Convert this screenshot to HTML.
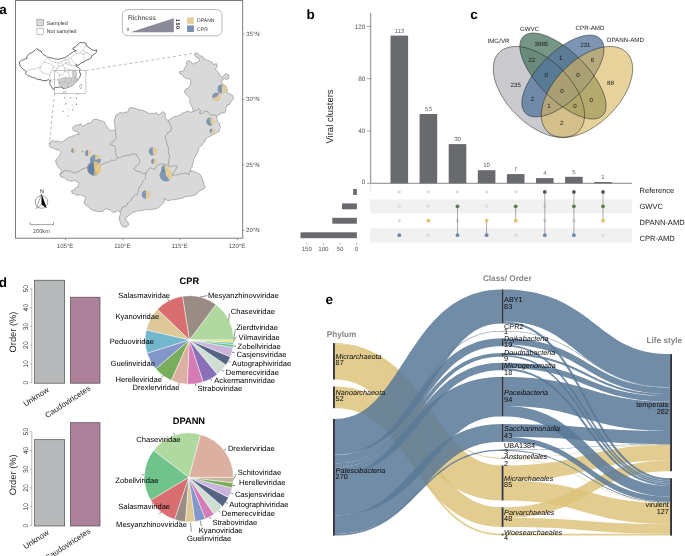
<!DOCTYPE html>
<html><head><meta charset="utf-8"><title>Figure</title>
<style>html,body{margin:0;padding:0;background:#fff;}svg{display:block;will-change:transform;}text{font-family:"Liberation Sans",sans-serif;text-rendering:geometricPrecision;}</style>
</head><body>
<svg width="685" height="556" viewBox="0 0 685 556">
<rect width="685" height="556" fill="#fff"/>
<g id="panelA">
<rect x="15.5" y="0.5" width="227.2" height="237.7" fill="#fff" stroke="#6e6e6e" stroke-width="0.9"/>
<path d="M85.9 70.5 L196 53" stroke="#777" stroke-width="0.5" stroke-dasharray="3 2.5" fill="none"/>
<path d="M54.5 93.6 L49.3 144" stroke="#777" stroke-width="0.5" stroke-dasharray="3 2.5" fill="none"/>
<path d="M19.3 62.8 L19.8 61.6 L20.6 61.0 L21.7 60.2 L22.7 60.0 L23.7 59.7 L24.4 59.3 L25.4 58.8 L26.8 58.5 L26.8 56.9 L27.4 56.0 L28.3 55.0 L29.3 53.5 L30.0 52.9 L31.4 53.0 L32.4 52.3 L33.7 51.3 L34.9 50.4 L36.1 49.2 L36.7 48.5 L37.9 49.3 L38.6 50.4 L39.6 50.4 L41.1 51.0 L41.5 52.5 L42.3 53.5 L43.3 54.5 L44.8 55.4 L45.8 55.9 L46.6 56.3 L47.5 57.2 L48.4 57.2 L49.9 57.6 L51.0 57.9 L52.1 58.2 L53.4 58.4 L54.7 58.8 L56.1 59.1 L57.0 59.1 L58.4 59.1 L59.7 59.1 L61.1 58.5 L62.1 58.5 L63.7 57.8 L64.6 57.8 L65.9 57.2 L66.9 56.3 L68.3 55.4 L69.3 54.6 L70.8 53.5 L72.3 52.6 L73.3 51.6 L75.1 51.2 L76.4 51.0 L75.6 50.5 L74.6 49.8 L72.7 49.2 L73.4 48.2 L73.9 47.3 L75.4 47.0 L76.4 46.1 L77.3 44.9 L78.3 43.6 L79.2 43.1 L80.8 42.3 L82.4 42.9 L83.9 42.7 L85.3 43.0 L86.3 43.6 L86.6 44.9 L87.0 46.1 L87.9 47.0 L89.4 47.9 L90.5 48.6 L91.9 49.8 L93.2 50.3 L95.0 50.4 L96.9 49.8 L96.3 50.9 L96.3 52.3 L95.3 53.5 L94.4 54.1 L92.9 55.0 L91.9 56.0 L91.3 57.2 L90.7 57.9 L89.7 59.0 L88.2 59.7 L86.8 60.0 L85.7 60.3 L84.7 61.5 L83.9 62.2 L82.9 62.3 L81.4 62.8 L80.2 63.6 L79.5 64.7 L77.7 65.3 L75.8 64.7 L76.4 66.5 L77.5 67.1 L78.9 67.8 L79.6 68.5 L80.1 69.6 L79.5 71.5 L79.8 72.7 L80.8 74.0 L80.4 75.3 L80.1 76.5 L79.5 77.8 L78.3 78.9 L77.4 80.3 L76.4 81.4 L75.7 81.9 L75.0 83.3 L73.9 83.9 L73.0 85.0 L71.5 85.8 L70.1 86.3 L69.0 87.0 L67.5 87.4 L66.5 87.6 L64.9 87.9 L64.0 88.9 L62.9 88.0 L62.1 87.6 L60.8 87.0 L59.7 87.0 L58.1 87.1 L57.2 87.6 L55.7 87.5 L54.7 87.6 L54.1 89.5 L52.8 89.1 L52.2 88.2 L51.7 86.8 L51.0 85.8 L50.2 84.4 L49.7 83.3 L50.0 81.8 L50.4 80.8 L49.7 80.5 L48.5 79.6 L47.2 80.2 L46.0 80.8 L44.2 80.5 L42.9 80.8 L41.8 80.2 L41.1 79.7 L39.8 79.6 L37.9 79.6 L36.7 78.9 L35.7 78.3 L34.7 77.8 L33.6 77.7 L32.6 77.6 L31.8 77.0 L30.5 76.5 L29.3 76.0 L28.2 75.8 L27.4 75.2 L26.5 74.5 L25.5 73.4 L26.2 71.5 L24.8 70.4 L23.7 69.6 L23.0 69.0 L21.8 67.8 L21.1 67.1 L20.0 65.9 L19.9 64.5 Z" fill="#fff" stroke="#1a1a1a" stroke-width="0.65" stroke-linejoin="round"/>
<path d="M26.2 71.5 L27.3 71.0 L28.6 70.4 L29.7 70.0 L31.1 69.6 L32.3 69.4 L33.8 69.0 L35.0 68.9 L36.1 68.4 L37.7 67.9 L38.9 67.5 L40.4 67.2 L40.9 65.8 L41.7 64.7 L42.7 63.6 L43.5 62.2 L44.5 61.2 L45.2 60.3 L45.8 59.3 L46.9 58.3 L47.5 57.2" fill="none" stroke="#808080" stroke-width="0.35"/>
<path d="M40.4 67.2 L40.2 68.7 L39.8 70.3 L40.7 71.2 L41.8 72.0 L42.9 72.7 L44.3 73.1 L45.4 73.7 L46.6 74.0 L48.3 74.5 L49.7 75.2 L49.7 76.5 L50.2 78.1 L50.1 79.5 L50.4 80.8" fill="none" stroke="#808080" stroke-width="0.35"/>
<path d="M43.5 62.2 L45.0 62.5 L46.0 62.6 L47.3 62.8 L48.4 63.0 L49.9 63.7 L51.0 64.1 L52.0 65.1 L53.0 65.9 L54.1 66.5 L53.6 67.5 L52.7 68.5 L52.2 69.6 L51.6 70.8 L51.1 71.8 L50.6 73.2 L50.2 74.1 L49.7 75.2" fill="none" stroke="#808080" stroke-width="0.35"/>
<path d="M47.5 57.2 L48.4 58.3 L49.2 59.3 L50.1 60.0 L51.0 61.0 L52.2 61.2 L53.4 61.7 L54.7 62.2 L55.7 62.5 L57.1 62.6 L58.4 62.8 L60.1 62.2 L61.5 61.6 L62.5 61.0 L63.6 60.4 L64.6 59.7 L66.0 59.4 L67.7 59.1 L69.2 58.4 L70.8 57.9 L72.2 56.6 L73.3 55.4 L74.6 54.5 L75.8 53.5 L77.2 53.3 L78.3 53.1 L79.5 52.9 L80.6 52.1 L81.6 51.2 L82.6 50.4 L83.2 49.5 L83.9 48.5 L84.5 47.3 L85.3 46.0 L85.7 45.0 L86.3 43.6" fill="none" stroke="#808080" stroke-width="0.35"/>
<path d="M79.5 52.9 L80.9 53.2 L81.8 53.7 L83.2 54.1 L84.5 53.6 L86.0 53.4 L87.6 52.9 L88.8 53.8 L89.6 54.5 L90.9 55.1 L91.9 56.0" fill="none" stroke="#808080" stroke-width="0.35"/>
<path d="M82.6 50.4 L84.0 51.2 L85.0 51.8 L86.3 52.3 L87.6 52.9" fill="none" stroke="#808080" stroke-width="0.35"/>
<path d="M83.2 54.1 L83.8 55.5 L83.9 56.6 L84.5 57.9 L84.3 59.2 L83.9 60.7 L83.9 62.2" fill="none" stroke="#808080" stroke-width="0.35"/>
<path d="M58.4 62.8 L58.7 63.9 L58.9 65.3 L59.0 66.5 L57.9 67.7 L57.2 69.0 L56.0 70.0 L54.7 70.9" fill="none" stroke="#808080" stroke-width="0.35"/>
<path d="M61.5 61.6 L61.8 63.0 L62.5 64.2 L62.8 65.3 L63.5 66.4 L64.6 67.8 L65.7 68.5 L67.1 69.0 L68.6 69.2 L70.2 69.6 L71.7 70.1 L73.3 70.3" fill="none" stroke="#808080" stroke-width="0.35"/>
<path d="M64.6 59.7 L65.2 60.9 L65.3 62.4 L65.9 63.4 L67.1 64.1 L68.3 64.7 L69.7 65.1 L71.5 65.9 L73.0 65.5 L74.2 65.3 L75.8 64.7" fill="none" stroke="#808080" stroke-width="0.35"/>
<path d="M67.7 59.1 L68.4 60.2 L68.8 61.3 L69.6 62.2 L70.0 63.6 L70.8 64.6 L71.5 65.9" fill="none" stroke="#808080" stroke-width="0.35"/>
<path d="M70.8 57.9 L71.5 59.1 L72.0 59.8 L72.7 61.0 L73.6 61.8 L74.6 62.8 L75.4 63.5 L76.4 64.3 L77.7 65.3" fill="none" stroke="#808080" stroke-width="0.35"/>
<path d="M62.8 65.3 L61.5 65.6 L60.4 66.0 L59.0 66.5" fill="none" stroke="#808080" stroke-width="0.35"/>
<path d="M65.9 63.4 L64.8 63.9 L63.7 64.5 L62.8 65.3" fill="none" stroke="#808080" stroke-width="0.35"/>
<path d="M69.6 62.2 L68.3 62.4 L67.2 63.0 L65.9 63.4" fill="none" stroke="#808080" stroke-width="0.35"/>
<path d="M54.7 70.9 L55.6 71.5 L56.9 72.0 L57.8 72.7 L58.9 74.0 L59.7 75.2 L59.2 76.6 L58.8 77.7 L58.4 78.9 L58.8 80.4 L59.0 81.4" fill="none" stroke="#808080" stroke-width="0.35"/>
<path d="M54.7 70.9 L53.4 70.4 L52.2 69.6" fill="none" stroke="#808080" stroke-width="0.35"/>
<path d="M50.4 80.8 L52.0 80.2 L53.5 79.6 L55.0 79.8 L56.6 80.2 L58.4 78.9" fill="none" stroke="#808080" stroke-width="0.35"/>
<path d="M54.1 66.5 L54.9 67.2 L56.0 68.3 L57.2 69.0" fill="none" stroke="#808080" stroke-width="0.35"/>
<path d="M59.7 75.2 L61.1 74.8 L62.8 74.6 L63.2 73.7 L64.2 72.6 L64.6 71.5 L64.5 70.2 L64.5 69.0 L64.6 67.8" fill="none" stroke="#808080" stroke-width="0.35"/>
<path d="M64.6 71.5 L65.7 71.7 L67.0 72.1 L68.3 72.1 L69.5 70.9 L70.2 69.6" fill="none" stroke="#808080" stroke-width="0.35"/>
<path d="M68.3 72.1 L68.9 73.9 L69.6 75.2 L68.9 76.5 L68.3 78.0" fill="none" stroke="#808080" stroke-width="0.35"/>
<path d="M73.3 70.3 L73.1 70.5" fill="none" stroke="#808080" stroke-width="0.35"/>
<path d="M58.4 80.8 L59.7 78.9 L62.8 78.0 L65.2 77.5 L68.3 78.0 L71.5 77.5 L73.3 77.2 L72.4 74.6 L72.3 72.1 L73.1 70.5 L75.8 70.5 L76.8 73.4 L76.0 76.7 L77.0 78.9 L76.4 81.4 L74.6 83.7 L72.1 85.8 L69.6 87.0 L67.1 87.6 L65.9 89.5 L64.6 88.2 L62.1 87.0 L60.3 85.8 L58.7 83.3 Z" fill="#cfcfcf" stroke="#8c8c8c" stroke-width="0.35"/>
<path d="M65.2 77.5 L65.9 81.4 L67.7 83.3 L67.1 87.6" fill="none" stroke="#8c8c8c" stroke-width="0.3"/>
<path d="M71.5 77.5 L71.1 80.8 L69.6 83.3 L67.7 83.3" fill="none" stroke="#8c8c8c" stroke-width="0.3"/>
<path d="M71.1 80.8 L73.9 81.4 L76.0 76.7" fill="none" stroke="#8c8c8c" stroke-width="0.3"/>
<path d="M73.3 77.2 L76.0 76.7" fill="none" stroke="#8c8c8c" stroke-width="0.3"/>
<path d="M58.7 83.3 L62.1 82.7 L65.9 81.4" fill="none" stroke="#8c8c8c" stroke-width="0.3"/>
<path d="M79.8 84.9 L81.4 84.2 L81.7 86.4 L80.8 88.9 L79.5 87.0 Z" fill="#fff" stroke="#555" stroke-width="0.35"/>
<path d="M63.6 91.6 L65.6 91.3 L66.1 92.8 L64.6 93.8 L63.4 92.8 Z" fill="#fff" stroke="#555" stroke-width="0.35"/>
<rect x="54.5" y="70.5" width="31.4" height="23.1" fill="none" stroke="#9a9a9a" stroke-width="0.55"/>
<path d="M64.2 97.3 L65.2 98.5" stroke="#333" stroke-width="0.65" fill="none"/>
<path d="M71.0 97.3 L70.0 98.5" stroke="#333" stroke-width="0.65" fill="none"/>
<path d="M76.5 97.5 L76.5 98.9" stroke="#333" stroke-width="0.65" fill="none"/>
<path d="M78.0 93.7 L77.0 94.7" stroke="#333" stroke-width="0.65" fill="none"/>
<path d="M65.7 103.2 L65.7 104.6" stroke="#333" stroke-width="0.65" fill="none"/>
<path d="M76.4 103.7 L76.4 105.1" stroke="#333" stroke-width="0.65" fill="none"/>
<path d="M73.3 109.5 L72.1 110.3" stroke="#333" stroke-width="0.65" fill="none"/>
<path d="M62.7 110.9 L63.5 112.1" stroke="#333" stroke-width="0.65" fill="none"/>
<path d="M67.7 115.6 L68.7 116.6" stroke="#333" stroke-width="0.65" fill="none"/>
<path d="M70.5 105.5 L72.5 104.2 L73.5 106.0 L71.5 107.0" stroke="#bbb" stroke-width="0.35" fill="none"/>
<path d="M66.5 109.5 L68.5 108.5 L70.0 109.3" stroke="#bbb" stroke-width="0.35" fill="none"/>
<path d="M68.0 96.8 L68.8 97.8" stroke="#bbb" stroke-width="0.35" fill="none"/>
<path d="M69.5 110.0 L68.5 112.5" stroke="#bbb" stroke-width="0.35" fill="none"/>
<path d="M49.2 144.8 L49.9 142.2 L52.5 140.5 L55.1 141.5 L57.7 140.9 L58.6 141.4 L61.0 142.2 L62.6 141.5 L64.3 140.9 L65.5 139.6 L67.6 138.3 L68.5 137.2 L70.9 136.9 L72.2 136.1 L74.8 135.6 L76.4 134.3 L79.4 134.3 L78.1 132.3 L75.8 131.3 L74.2 131.0 L72.2 128.4 L73.5 126.4 L75.3 125.8 L76.8 125.1 L79.1 124.7 L80.7 123.8 L82.7 126.4 L85.3 125.1 L88.0 123.1 L90.3 123.1 L91.9 121.8 L93.2 119.5 L96.5 119.2 L98.0 119.6 L99.8 120.5 L103.1 121.2 L104.8 122.3 L105.0 124.5 L107.0 126.4 L108.3 129.1 L110.3 130.3 L111.6 131.0 L112.6 130.9 L114.9 129.7 L115.3 127.5 L114.5 125.0 L114.8 123.7 L113.9 121.5 L114.5 119.7 L115.1 117.9 L115.8 115.1 L118.2 114.3 L119.7 112.5 L122.1 113.1 L124.3 112.5 L127.6 111.8 L128.5 110.5 L128.9 108.5 L130.5 107.5 L132.9 107.9 L134.6 108.3 L137.5 109.2 L139.2 110.0 L142.0 109.9 L144.1 111.0 L146.0 111.8 L148.2 113.1 L149.9 113.8 L151.9 113.1 L153.9 113.8 L156.5 112.5 L158.5 115.1 L161.1 113.1 L163.1 111.6 L165.0 113.1 L165.5 115.5 L165.0 117.1 L166.4 119.7 L168.3 120.4 L170.4 119.1 L172.5 117.7 L175.0 116.4 L177.1 116.4 L179.4 115.1 L181.0 114.5 L182.4 113.1 L185.0 112.5 L187.0 111.4 L188.3 111.2 L190.6 112.2 L192.2 111.8 L193.5 111.6 L192.9 109.6 L192.2 107.5 L191.5 105.7 L190.5 104.3 L189.6 102.4 L190.2 99.1 L188.3 96.5 L186.3 94.5 L184.3 91.9 L185.6 89.3 L188.3 88.0 L190.2 85.3 L190.9 82.0 L190.2 78.8 L186.9 78.8 L184.3 77.5 L182.3 74.8 L179.7 73.5 L179.7 71.5 L182.1 71.4 L183.7 70.9 L184.5 68.6 L185.0 67.6 L186.9 65.0 L186.3 61.7 L188.3 60.4 L190.9 61.7 L192.9 64.3 L194.8 63.0 L197.5 62.3 L199.4 61.0 L198.8 58.4 L196.1 57.1 L194.2 55.1 L195.5 53.1 L198.1 53.8 L200.1 55.8 L202.7 56.4 L204.0 59.1 L205.1 59.3 L207.3 60.4 L209.3 60.7 L210.6 61.7 L212.0 62.3 L213.2 64.3 L216.5 63.7 L217.2 66.9 L215.8 68.2 L215.8 70.2 L218.5 72.2 L219.4 74.1 L219.8 75.5 L222.4 77.5 L224.4 74.8 L226.4 73.5 L228.3 74.8 L229.0 78.1 L227.0 79.4 L224.4 78.8 L222.4 79.4 L221.8 82.0 L223.1 84.7 L225.7 86.0 L227.0 88.6 L227.3 90.3 L227.0 92.6 L229.6 93.9 L231.3 94.8 L232.9 95.8 L233.6 98.5 L231.6 101.1 L230.6 102.2 L229.6 104.4 L227.0 105.0 L227.0 106.2 L225.7 108.3 L225.8 111.4 L224.4 113.1 L221.7 113.0 L220.4 113.1 L219.6 114.9 L217.7 115.0 L216.5 116.4 L217.2 119.7 L218.0 122.4 L219.8 123.7 L219.7 125.7 L220.4 127.6 L219.3 129.6 L219.1 131.5 L217.8 132.0 L215.2 133.5 L214.0 134.2 L211.9 134.8 L210.8 136.1 L208.6 136.8 L206.6 138.4 L205.3 138.8 L204.7 142.0 L203.3 143.0 L202.0 145.3 L199.7 146.6 L198.8 148.0 L198.4 149.6 L198.1 151.9 L196.7 153.2 L196.1 155.5 L195.5 156.6 L193.7 159.2 L193.5 161.2 L193.4 162.6 L192.2 165.1 L192.2 167.1 L190.9 168.4 L190.5 171.0 L192.9 171.0 L194.2 171.7 L195.6 172.2 L197.5 173.0 L199.8 174.1 L200.7 175.0 L201.2 176.5 L202.0 178.3 L202.4 179.2 L203.4 181.5 L204.0 184.8 L205.3 186.8 L204.0 188.8 L201.4 190.1 L198.8 191.4 L196.8 194.0 L194.6 195.2 L193.5 195.3 L191.2 196.3 L189.6 196.0 L186.3 196.6 L184.3 197.0 L183.0 198.0 L179.7 198.6 L176.4 199.3 L173.1 199.9 L171.2 199.8 L169.2 200.6 L165.9 199.9 L163.9 198.0 L164.6 200.6 L163.3 203.2 L160.7 205.2 L159.9 206.5 L157.8 208.2 L156.0 208.5 L154.6 209.3 L152.0 209.1 L150.5 210.0 L149.2 209.6 L146.8 209.8 L145.4 209.3 L143.6 210.2 L141.5 210.4 L140.2 211.1 L137.7 210.6 L136.3 211.8 L134.6 211.9 L131.7 213.1 L131.3 213.5 L129.2 215.0 L127.7 216.6 L125.7 217.6 L125.1 219.6 L126.7 220.7 L128.2 222.7 L128.5 225.3 L126.7 226.8 L124.1 227.3 L121.8 225.8 L120.5 222.7 L119.3 219.6 L119.5 216.6 L120.5 214.0 L120.0 212.0 L118.0 210.4 L115.4 212.0 L112.9 212.5 L111.6 211.0 L110.3 209.9 L107.8 209.4 L105.7 208.4 L103.7 210.9 L101.1 211.7 L98.1 211.5 L95.0 210.9 L93.9 210.4 L91.6 209.8 L89.9 208.5 L89.0 206.8 L86.6 205.8 L85.6 204.2 L84.0 203.2 L84.7 200.6 L85.4 198.8 L86.0 197.3 L83.4 196.0 L80.9 194.8 L79.4 194.7 L77.0 195.3 L75.5 194.7 L73.8 193.6 L72.2 193.4 L71.5 190.7 L73.8 190.5 L74.8 188.8 L76.4 187.2 L78.1 186.8 L78.8 183.5 L76.8 180.9 L74.6 180.5 L73.1 180.7 L71.5 181.5 L69.2 180.5 L67.6 180.2 L66.1 179.5 L64.3 177.6 L61.0 176.9 L59.7 174.3 L61.7 171.8 L61.1 170.0 L59.7 168.5 L58.3 166.9 L57.1 165.2 L56.2 163.3 L55.8 161.9 L55.8 159.9 L57.1 158.6 L59.1 156.4 L59.7 155.3 L60.4 153.9 L61.0 152.0 L59.1 150.1 L55.8 149.4 L53.1 148.1 L50.5 147.5 Z" fill="#d9d9d9" stroke="#707070" stroke-width="0.5" stroke-linejoin="round"/>
<path d="M114.9 129.7 L115.7 131.3 L115.6 133.7 L115.9 135.3 L116.9 137.6 L115.1 139.2 L113.6 140.9 L112.9 142.5 L111.5 142.4 L109.6 144.2 L111.0 145.1 L113.6 145.5 L115.6 148.1 L115.8 150.0 L114.9 152.0 L115.7 153.0 L116.2 155.3 L117.5 158.0" fill="none" stroke="#707070" stroke-width="0.5" stroke-linejoin="round"/>
<path d="M117.5 158.0 L115.7 159.9 L114.2 160.6 L111.0 159.9 L109.4 161.7 L107.0 162.6 L105.7 162.9 L103.1 163.9 L100.4 165.2 L97.9 165.0 L96.5 166.1 L95.2 166.5 L92.6 166.5 L90.6 167.3 L88.1 167.5 L86.0 167.8 L83.4 168.9 L82.0 169.1 L79.7 171.0 L78.1 171.8 L76.3 172.1 L74.2 173.1 L71.7 171.7 L70.2 171.1 L68.4 171.1 L66.3 170.4 L64.1 170.8 L63.0 172.4 L61.4 173.5 L59.7 174.4" fill="none" stroke="#707070" stroke-width="0.5" stroke-linejoin="round"/>
<path d="M117.5 158.0 L120.5 157.9 L122.5 155.9 L125.8 155.9 L127.6 155.2 L129.7 155.3 L131.8 153.9 L133.7 153.9 L136.9 154.6 L137.3 156.2 L138.3 157.9 L139.6 159.7 L139.6 161.2 L139.4 162.8 L138.3 164.5 L135.6 166.4 L133.7 169.1 L136.3 171.0 L139.6 171.7 L140.8 172.3 L142.9 173.7 L146.1 173.0" fill="none" stroke="#707070" stroke-width="0.5" stroke-linejoin="round"/>
<path d="M146.1 173.0 L145.5 176.3 L145.5 178.2 L144.2 179.6 L142.9 180.9 L142.2 183.5 L140.9 185.4 L139.6 186.8 L138.8 188.4 L138.3 190.7 L137.8 193.3 L136.9 194.7 L134.6 195.3 L133.0 197.3 L131.8 198.8 L131.0 200.6 L129.6 201.5 L127.7 203.2 L127.2 205.2 L125.8 206.5 L123.8 206.7 L121.8 207.8 L121.6 209.6 L120.0 212.0" fill="none" stroke="#707070" stroke-width="0.5" stroke-linejoin="round"/>
<path d="M146.1 173.0 L147.6 171.0 L148.1 169.7 L150.7 167.7 L152.3 168.8 L154.7 169.1 L155.4 168.0 L156.6 165.8 L158.3 164.7 L159.9 164.5 L162.6 163.8 L164.1 164.0 L166.5 164.5 L169.1 166.4" fill="none" stroke="#707070" stroke-width="0.5" stroke-linejoin="round"/>
<path d="M168.3 120.4 L169.2 122.6 L169.6 123.7 L170.1 125.5 L171.6 127.6 L170.6 130.2 L170.3 131.5 L168.2 132.2 L167.0 134.2 L165.4 136.0 L165.0 138.1 L166.3 140.6 L166.4 142.0 L167.3 144.7 L167.7 146.0 L168.6 148.1 L168.3 150.6 L168.5 153.5 L169.6 155.2 L169.7 156.5 L169.0 159.1 L168.9 160.9 L168.3 163.1 L169.0 165.7" fill="none" stroke="#707070" stroke-width="0.5" stroke-linejoin="round"/>
<path d="M169.1 166.4 L170.4 167.1 L172.2 166.2 L174.4 165.8 L177.7 166.4 L176.2 167.7 L175.7 170.4 L174.1 171.5 L173.1 173.0 L172.4 175.6 L175.4 174.8 L177.0 175.0 L180.0 173.9 L181.6 173.7 L183.4 173.8 L185.6 173.0 L187.7 173.9 L188.8 175.0 L189.2 172.6 L190.8 170.4" fill="none" stroke="#707070" stroke-width="0.5" stroke-linejoin="round"/>
<path d="M193.5 111.6 L195.5 110.5 L196.9 110.1 L198.8 108.5 L200.7 110.5 L199.4 113.1 L202.0 113.8 L203.3 112.3 L205.3 111.2 L207.5 111.5 L208.6 113.1 L210.5 114.6 L212.6 115.1 L214.9 115.1 L216.5 116.4" fill="none" stroke="#707070" stroke-width="0.5" stroke-linejoin="round"/>
<rect x="36.9" y="19.4" width="6.8" height="6.6" fill="#d9d9d9" stroke="#777" stroke-width="0.45"/>
<rect x="36.9" y="28.2" width="6.8" height="6.4" fill="#fff" stroke="#777" stroke-width="0.45"/>
<text x="46.8" y="24.6" font-size="5.3" fill="#333" font-family="Liberation Sans, sans-serif">Sampled</text>
<text x="46.8" y="33.3" font-size="5.3" fill="#333" font-family="Liberation Sans, sans-serif">Not sampled</text>
<rect x="122.4" y="9.5" width="99.6" height="26.3" rx="5.6" fill="#fff" stroke="#808080" stroke-width="0.55"/>
<text x="128" y="19.5" font-size="6.75" fill="#333" font-family="Liberation Sans, sans-serif">Richness</text>
<path d="M130.4 32.3 L173.8 32.3 L173.8 18.2 Z" fill="#8a8a9a"/>
<text x="126.8" y="30.8" font-size="4.5" fill="#333" font-family="Liberation Sans, sans-serif">0</text>
<text transform="translate(176.1 18.7) rotate(90)" font-size="5.4" font-weight="bold" letter-spacing="0.7" fill="#222" font-family="Liberation Sans, sans-serif">150</text>
<rect x="187.1" y="17.4" width="6.8" height="6.5" fill="#e6cf9b"/>
<rect x="187.1" y="25.4" width="6.8" height="6.6" fill="#7a92ae"/>
<text x="197.1" y="22.4" font-size="5.1" fill="#333" font-family="Liberation Sans, sans-serif">DPANN</text>
<text x="197.1" y="30.9" font-size="5.1" fill="#333" font-family="Liberation Sans, sans-serif">CPR</text>
<text x="42" y="192.5" font-size="5.3" text-anchor="middle" fill="#222" font-family="Liberation Sans, sans-serif">N</text>
<circle cx="41.5" cy="202" r="6.3" fill="none" stroke="#222" stroke-width="0.4"/>
<path d="M41.5 193.8 L46.8 208.2 L41.5 204.6 Z" fill="#000"/>
<path d="M41.5 193.8 L36.4 208.5 L41.5 204.6 Z" fill="#fff" stroke="#222" stroke-width="0.4"/>
<path d="M30.2 222 L30.2 224.6 L53.6 224.6 L53.6 222" fill="none" stroke="#666" stroke-width="0.6"/>
<text x="41.4" y="232.5" font-size="5.6" text-anchor="middle" fill="#555" font-family="Liberation Sans, sans-serif">200km</text>
<path d="M65.5 238.2 L65.5 240" stroke="#555" stroke-width="0.5"/>
<text x="65.1" y="248" font-size="6.1" text-anchor="middle" fill="#4d4d4d" font-family="Liberation Sans, sans-serif">105°E</text>
<path d="M122.8 238.2 L122.8 240" stroke="#555" stroke-width="0.5"/>
<text x="122.4" y="248" font-size="6.1" text-anchor="middle" fill="#4d4d4d" font-family="Liberation Sans, sans-serif">110°E</text>
<path d="M180.1 238.2 L180.1 240" stroke="#555" stroke-width="0.5"/>
<text x="179.7" y="248" font-size="6.1" text-anchor="middle" fill="#4d4d4d" font-family="Liberation Sans, sans-serif">115°E</text>
<path d="M237.4 238.2 L237.4 240" stroke="#555" stroke-width="0.5"/>
<text x="237.0" y="248" font-size="6.1" text-anchor="middle" fill="#4d4d4d" font-family="Liberation Sans, sans-serif">120°E</text>
<path d="M242.7 34.0 L244.5 34.0" stroke="#555" stroke-width="0.5"/>
<text x="246" y="35.7" font-size="6.1" fill="#4d4d4d" font-family="Liberation Sans, sans-serif">35°N</text>
<path d="M242.7 99.5 L244.5 99.5" stroke="#555" stroke-width="0.5"/>
<text x="246" y="101.2" font-size="6.1" fill="#4d4d4d" font-family="Liberation Sans, sans-serif">30°N</text>
<path d="M242.7 165.0 L244.5 165.0" stroke="#555" stroke-width="0.5"/>
<text x="246" y="166.7" font-size="6.1" fill="#4d4d4d" font-family="Liberation Sans, sans-serif">25°N</text>
<path d="M242.7 230.4 L244.5 230.4" stroke="#555" stroke-width="0.5"/>
<text x="246" y="232.1" font-size="6.1" fill="#4d4d4d" font-family="Liberation Sans, sans-serif">20°N</text>
<path d="M73.50 150.60 L73.28 148.11 A2.50 2.50 0 0 0 73.41 153.10 Z" fill="#56789f" fill-opacity="0.68" />
<path d="M73.50 150.60 L73.41 153.10 A2.50 2.50 0 1 0 73.28 148.11 Z" fill="#e6c57f" fill-opacity="0.68" />
<path d="M83.00 151.40 L83.00 150.40 A1.00 1.00 0 0 0 83.00 152.40 Z" fill="#56789f" fill-opacity="0.68" />
<path d="M83.00 151.40 L83.00 152.40 A1.00 1.00 0 0 0 83.00 150.40 Z" fill="#e6c57f" fill-opacity="0.68" />
<path d="M88.00 153.10 L88.00 150.10 A3.00 3.00 0 1 0 88.10 156.10 Z" fill="#56789f" fill-opacity="0.68" />
<path d="M88.00 153.10 L88.10 156.10 A3.00 3.00 0 0 0 88.00 150.10 Z" fill="#e6c57f" fill-opacity="0.68" />
<path d="M95.40 159.80 L95.40 154.40 A5.40 5.40 0 1 0 100.62 158.40 Z" fill="#56789f" fill-opacity="0.68" />
<path d="M95.40 159.80 L100.62 158.40 A5.40 5.40 0 0 0 95.40 154.40 Z" fill="#e6c57f" fill-opacity="0.68" />
<path d="M94.10 168.40 L93.47 161.23 A7.20 7.20 0 1 0 97.70 174.64 Z" fill="#56789f" fill-opacity="0.68" />
<path d="M94.10 168.40 L97.70 174.64 A7.20 7.20 0 0 0 93.47 161.23 Z" fill="#e6c57f" fill-opacity="0.68" />
<path d="M94.60 169.20 L93.49 162.90 A6.40 6.40 0 0 0 93.71 175.54 Z" fill="#56789f" fill-opacity="0.68" />
<path d="M94.60 169.20 L93.71 175.54 A6.40 6.40 0 1 0 93.49 162.90 Z" fill="#e6c57f" fill-opacity="0.68" />
<path d="M152.90 151.30 L152.75 147.10 A4.20 4.20 0 1 0 153.63 155.44 Z" fill="#56789f" fill-opacity="0.68" />
<path d="M152.90 151.30 L153.63 155.44 A4.20 4.20 0 0 0 152.75 147.10 Z" fill="#e6c57f" fill-opacity="0.68" />
<path d="M154.00 161.60 L153.74 158.61 A3.00 3.00 0 0 0 152.97 164.42 Z" fill="#56789f" fill-opacity="0.68" />
<path d="M154.00 161.60 L152.97 164.42 A3.00 3.00 0 1 0 153.74 158.61 Z" fill="#e6c57f" fill-opacity="0.68" />
<path d="M164.80 168.60 L164.80 164.90 A3.70 3.70 0 0 0 164.29 172.26 Z" fill="#56789f" fill-opacity="0.68" />
<path d="M164.80 168.60 L164.29 172.26 A3.70 3.70 0 1 0 164.80 164.90 Z" fill="#e6c57f" fill-opacity="0.68" />
<path d="M166.00 175.00 L164.89 168.70 A6.40 6.40 0 1 0 169.67 180.24 Z" fill="#56789f" fill-opacity="0.68" />
<path d="M166.00 175.00 L169.67 180.24 A6.40 6.40 0 0 0 164.89 168.70 Z" fill="#e6c57f" fill-opacity="0.68" />
<path d="M146.10 194.60 L145.72 190.22 A4.40 4.40 0 0 0 145.72 198.98 Z" fill="#56789f" fill-opacity="0.68" />
<path d="M146.10 194.60 L145.72 198.98 A4.40 4.40 0 1 0 145.72 190.22 Z" fill="#e6c57f" fill-opacity="0.68" />
<path d="M210.50 121.50 L210.50 117.20 A4.30 4.30 0 1 0 211.97 125.54 Z" fill="#56789f" fill-opacity="0.68" />
<path d="M210.50 121.50 L211.97 125.54 A4.30 4.30 0 0 0 210.50 117.20 Z" fill="#e6c57f" fill-opacity="0.68" />
<path d="M212.30 131.10 L211.81 128.34 A2.80 2.80 0 0 0 210.58 133.31 Z" fill="#56789f" fill-opacity="0.68" />
<path d="M212.30 131.10 L210.58 133.31 A2.80 2.80 0 1 0 211.81 128.34 Z" fill="#e6c57f" fill-opacity="0.68" />
<path d="M222.20 89.00 L222.20 84.30 A4.70 4.70 0 0 0 221.79 93.68 Z" fill="#56789f" fill-opacity="0.68" />
<path d="M222.20 89.00 L221.79 93.68 A4.70 4.70 0 1 0 222.20 84.30 Z" fill="#e6c57f" fill-opacity="0.68" />
<path d="M216.60 96.90 L219.43 93.53 A4.40 4.40 0 0 0 212.47 98.40 Z" fill="#56789f" fill-opacity="0.68" />
<path d="M216.60 96.90 L212.47 98.40 A4.40 4.40 0 1 0 219.43 93.53 Z" fill="#e6c57f" fill-opacity="0.68" />
<text x="-0.8" y="13.9" font-size="13.5" font-weight="bold" fill="#000" font-family="Liberation Sans, sans-serif">a</text>
</g>
<g id="panelB">
<text x="306.6" y="18.9" font-size="13.5" font-weight="bold" fill="#000" font-family="Liberation Sans, sans-serif">b</text>
<rect x="370.2" y="199.4" width="261.8" height="14.1" fill="#f1f1f1"/>
<rect x="370.2" y="228.2" width="261.8" height="14.2" fill="#f1f1f1"/>
<path d="M370.7 13 L370.7 183.3 L632 183.3" fill="none" stroke="#555" stroke-width="0.7"/>
<path d="M370.7 183.3 L370.7 191.5" fill="none" stroke="#ccc" stroke-width="0.5"/>
<path d="M367 183.3 L370.7 183.3" stroke="#666" stroke-width="0.6"/>
<text x="365.3" y="183.6" font-size="6.4" text-anchor="end" fill="#5a5a5a" font-family="Liberation Sans, sans-serif">0</text>
<path d="M367 131.0 L370.7 131.0" stroke="#666" stroke-width="0.6"/>
<text x="365.3" y="133.3" font-size="6.4" text-anchor="end" fill="#5a5a5a" font-family="Liberation Sans, sans-serif">40</text>
<path d="M367 78.7 L370.7 78.7" stroke="#666" stroke-width="0.6"/>
<text x="365.3" y="81.0" font-size="6.4" text-anchor="end" fill="#5a5a5a" font-family="Liberation Sans, sans-serif">80</text>
<path d="M367 26.4 L370.7 26.4" stroke="#666" stroke-width="0.6"/>
<text x="365.3" y="28.7" font-size="6.4" text-anchor="end" fill="#5a5a5a" font-family="Liberation Sans, sans-serif">120</text>
<text transform="translate(333.4 116.5) rotate(-90)" font-size="9.5" text-anchor="middle" fill="#222" font-family="Liberation Sans, sans-serif">Viral clusters</text>
<rect x="390.5" y="35.6" width="17.6" height="147.7" fill="#696a6e"/>
<text x="399.3" y="32.8" font-size="6" text-anchor="middle" fill="#5a5a5a" font-family="Liberation Sans, sans-serif">113</text>
<rect x="419.6" y="114.0" width="17.6" height="69.3" fill="#696a6e"/>
<text x="428.4" y="111.2" font-size="6" text-anchor="middle" fill="#5a5a5a" font-family="Liberation Sans, sans-serif">53</text>
<rect x="448.7" y="144.1" width="17.6" height="39.2" fill="#696a6e"/>
<text x="457.5" y="141.3" font-size="6" text-anchor="middle" fill="#5a5a5a" font-family="Liberation Sans, sans-serif">30</text>
<rect x="477.8" y="170.2" width="17.6" height="13.1" fill="#696a6e"/>
<text x="486.6" y="167.4" font-size="6" text-anchor="middle" fill="#5a5a5a" font-family="Liberation Sans, sans-serif">10</text>
<rect x="506.9" y="174.1" width="17.6" height="9.2" fill="#696a6e"/>
<text x="515.7" y="171.3" font-size="6" text-anchor="middle" fill="#5a5a5a" font-family="Liberation Sans, sans-serif">7</text>
<rect x="536.0" y="178.1" width="17.6" height="5.2" fill="#696a6e"/>
<text x="544.8" y="175.3" font-size="6" text-anchor="middle" fill="#5a5a5a" font-family="Liberation Sans, sans-serif">4</text>
<rect x="565.1" y="176.8" width="17.6" height="6.5" fill="#696a6e"/>
<text x="573.9" y="174.0" font-size="6" text-anchor="middle" fill="#5a5a5a" font-family="Liberation Sans, sans-serif">5</text>
<rect x="594.2" y="182.0" width="17.6" height="1.3" fill="#696a6e"/>
<text x="603.0" y="179.2" font-size="6" text-anchor="middle" fill="#5a5a5a" font-family="Liberation Sans, sans-serif">1</text>
<circle cx="399.3" cy="191.9" r="1.75" fill="#dedede"/>
<circle cx="399.3" cy="206.3" r="1.75" fill="#dedede"/>
<circle cx="399.3" cy="220.7" r="1.75" fill="#dedede"/>
<circle cx="399.3" cy="235.2" r="1.9" fill="#6b89a8"/>
<circle cx="428.4" cy="191.9" r="1.75" fill="#dedede"/>
<circle cx="428.4" cy="206.3" r="1.75" fill="#dedede"/>
<circle cx="428.4" cy="235.2" r="1.75" fill="#dedede"/>
<circle cx="428.4" cy="220.7" r="1.9" fill="#e6c36c"/>
<circle cx="457.5" cy="191.9" r="1.75" fill="#dedede"/>
<circle cx="457.5" cy="220.7" r="1.75" fill="#dedede"/>
<path d="M457.5 206.3 L457.5 235.2" stroke="#5a5a5a" stroke-width="0.5"/>
<circle cx="457.5" cy="206.3" r="1.9" fill="#5f7d4e"/>
<circle cx="457.5" cy="235.2" r="1.9" fill="#6b89a8"/>
<circle cx="486.6" cy="191.9" r="1.75" fill="#dedede"/>
<circle cx="486.6" cy="206.3" r="1.75" fill="#dedede"/>
<path d="M486.6 220.7 L486.6 235.2" stroke="#5a5a5a" stroke-width="0.5"/>
<circle cx="486.6" cy="220.7" r="1.9" fill="#e6c36c"/>
<circle cx="486.6" cy="235.2" r="1.9" fill="#6b89a8"/>
<circle cx="515.7" cy="191.9" r="1.75" fill="#dedede"/>
<circle cx="515.7" cy="235.2" r="1.75" fill="#dedede"/>
<path d="M515.7 206.3 L515.7 220.7" stroke="#5a5a5a" stroke-width="0.5"/>
<circle cx="515.7" cy="206.3" r="1.9" fill="#5f7d4e"/>
<circle cx="515.7" cy="220.7" r="1.9" fill="#e6c36c"/>
<circle cx="544.8" cy="206.3" r="1.75" fill="#dedede"/>
<circle cx="544.8" cy="220.7" r="1.75" fill="#dedede"/>
<path d="M544.8 191.9 L544.8 235.2" stroke="#5a5a5a" stroke-width="0.5"/>
<circle cx="544.8" cy="191.9" r="1.9" fill="#55565a"/>
<circle cx="544.8" cy="235.2" r="1.9" fill="#6b89a8"/>
<circle cx="573.9" cy="220.7" r="1.75" fill="#dedede"/>
<path d="M573.9 191.9 L573.9 235.2" stroke="#5a5a5a" stroke-width="0.5"/>
<circle cx="573.9" cy="191.9" r="1.9" fill="#55565a"/>
<circle cx="573.9" cy="206.3" r="1.9" fill="#5f7d4e"/>
<circle cx="573.9" cy="235.2" r="1.9" fill="#6b89a8"/>
<circle cx="603.0" cy="235.2" r="1.75" fill="#dedede"/>
<path d="M603.0 191.9 L603.0 220.7" stroke="#5a5a5a" stroke-width="0.5"/>
<circle cx="603.0" cy="191.9" r="1.9" fill="#55565a"/>
<circle cx="603.0" cy="206.3" r="1.9" fill="#5f7d4e"/>
<circle cx="603.0" cy="220.7" r="1.9" fill="#e6c36c"/>
<text x="639.5" y="193.3" font-size="7.55" fill="#1a1a1a" font-family="Liberation Sans, sans-serif">Reference</text>
<text x="639.5" y="209.2" font-size="7.55" fill="#1a1a1a" font-family="Liberation Sans, sans-serif">GWVC</text>
<text x="639.5" y="225.3" font-size="7.55" fill="#1a1a1a" font-family="Liberation Sans, sans-serif">DPANN-AMD</text>
<text x="639.5" y="240.8" font-size="7.55" fill="#1a1a1a" font-family="Liberation Sans, sans-serif">CPR-AMD</text>
<rect x="353.2" y="189.0" width="3.7" height="5.9" fill="#696a6e"/>
<rect x="342.0" y="203.4" width="14.9" height="5.9" fill="#696a6e"/>
<rect x="332.3" y="217.8" width="24.6" height="5.9" fill="#696a6e"/>
<rect x="300.5" y="232.3" width="56.4" height="5.9" fill="#696a6e"/>
<path d="M356.6 243 L356.6 244.6" stroke="#444" stroke-width="0.5"/>
<text x="356.6" y="250.8" font-size="6.2" text-anchor="middle" fill="#5a5a5a" font-family="Liberation Sans, sans-serif">0</text>
<path d="M340.0 243 L340.0 244.6" stroke="#444" stroke-width="0.5"/>
<text x="340.0" y="250.8" font-size="6.2" text-anchor="middle" fill="#5a5a5a" font-family="Liberation Sans, sans-serif">50</text>
<path d="M323.4 243 L323.4 244.6" stroke="#444" stroke-width="0.5"/>
<text x="323.4" y="250.8" font-size="6.2" text-anchor="middle" fill="#5a5a5a" font-family="Liberation Sans, sans-serif">100</text>
<path d="M306.8 243 L306.8 244.6" stroke="#444" stroke-width="0.5"/>
<text x="306.8" y="250.8" font-size="6.2" text-anchor="middle" fill="#5a5a5a" font-family="Liberation Sans, sans-serif">150</text>
</g>
<g id="panelC">
<text x="470.3" y="18.7" font-size="13.5" font-weight="bold" fill="#000" font-family="Liberation Sans, sans-serif">c</text>
<path d="M499.3 52.5 L497.8 54.1 L496.5 56.0 L495.4 58.0 L494.6 60.2 L493.9 62.6 L493.5 65.1 L493.3 67.7 L493.3 70.4 L493.5 73.3 L494.0 76.2 L494.7 79.2 L495.6 82.3 L496.7 85.4 L498.0 88.6 L499.5 91.8 L501.2 94.9 L503.1 98.1 L505.1 101.2 L507.3 104.3 L509.7 107.3 L512.2 110.3 L514.9 113.1 L517.7 115.9 L520.5 118.5 L523.5 121.1 L526.5 123.4 L529.6 125.6 L532.8 127.7 L535.9 129.6 L539.1 131.3 L542.3 132.8 L545.5 134.1 L548.6 135.2 L551.7 136.1 L554.7 136.7 L557.7 137.2 L560.5 137.4 L563.3 137.4 L565.9 137.2 L568.4 136.8 L570.8 136.2 L573.0 135.3 L575.0 134.2 L576.9 132.9 L578.6 131.5 L580.0 129.8 L581.3 127.9 L582.4 125.9 L583.3 123.7 L583.9 121.4 L584.3 118.9 L584.6 116.2 L584.5 113.5 L584.3 110.7 L583.8 107.7 L583.2 104.7 L582.3 101.6 L581.2 98.5 L579.9 95.3 L578.4 92.2 L576.7 89.0 L574.8 85.8 L572.7 82.7 L570.5 79.6 L568.1 76.6 L565.6 73.7 L562.9 70.8 L560.2 68.0 L557.3 65.4 L554.3 62.9 L551.3 60.5 L548.2 58.3 L545.1 56.2 L541.9 54.4 L538.7 52.7 L535.5 51.2 L532.4 49.9 L529.2 48.8 L526.1 47.9 L523.1 47.2 L520.2 46.7 L517.3 46.5 L514.6 46.5 L511.9 46.7 L509.4 47.1 L507.1 47.8 L504.9 48.6 L502.8 49.7 L501.0 51.0 Z" fill="rgb(187,187,192)" fill-opacity="0.76" stroke="none"/>
<path d="M523.3 36.5 L522.2 37.8 L521.3 39.3 L520.6 40.9 L520.2 42.7 L519.9 44.7 L519.8 46.8 L520.0 49.1 L520.3 51.5 L520.9 54.0 L521.7 56.6 L522.6 59.4 L523.8 62.2 L525.2 65.0 L526.7 68.0 L528.4 70.9 L530.3 73.9 L532.3 76.9 L534.5 79.9 L536.9 82.9 L539.3 85.8 L541.9 88.7 L544.6 91.5 L547.3 94.3 L550.2 97.0 L553.1 99.5 L556.1 102.0 L559.0 104.3 L562.0 106.5 L565.1 108.5 L568.1 110.4 L571.0 112.1 L574.0 113.7 L576.8 115.0 L579.7 116.2 L582.4 117.1 L585.0 117.9 L587.6 118.5 L590.0 118.8 L592.2 119.0 L594.4 118.9 L596.4 118.6 L598.2 118.2 L599.8 117.5 L601.3 116.6 L602.6 115.5 L603.7 114.2 L604.6 112.8 L605.3 111.1 L605.7 109.3 L606.0 107.3 L606.1 105.2 L605.9 102.9 L605.6 100.5 L605.0 98.0 L604.2 95.4 L603.3 92.7 L602.1 89.9 L600.7 87.0 L599.2 84.1 L597.5 81.1 L595.6 78.1 L593.5 75.1 L591.4 72.1 L589.0 69.1 L586.6 66.2 L584.0 63.3 L581.3 60.5 L578.5 57.7 L575.7 55.0 L572.8 52.5 L569.8 50.0 L566.9 47.7 L563.8 45.5 L560.8 43.5 L557.8 41.6 L554.9 39.9 L551.9 38.4 L549.0 37.0 L546.2 35.8 L543.5 34.9 L540.9 34.1 L538.3 33.5 L535.9 33.2 L533.6 33.0 L531.5 33.1 L529.5 33.4 L527.7 33.9 L526.1 34.5 L524.6 35.4 Z" fill="rgb(75,117,97)" fill-opacity="0.76" stroke="none"/>
<path d="M600.3 38.8 L599.0 37.7 L597.6 36.8 L596.0 36.1 L594.2 35.5 L592.3 35.2 L590.2 35.1 L588.0 35.2 L585.6 35.5 L583.2 35.9 L580.7 36.6 L578.0 37.5 L575.3 38.5 L572.6 39.7 L569.8 41.1 L566.9 42.7 L564.1 44.5 L561.2 46.4 L558.3 48.4 L555.5 50.6 L552.7 52.9 L550.0 55.3 L547.3 57.8 L544.7 60.4 L542.1 63.1 L539.7 65.8 L537.4 68.6 L535.2 71.4 L533.2 74.3 L531.3 77.1 L529.5 80.0 L528.0 82.8 L526.5 85.6 L525.3 88.3 L524.3 91.0 L523.4 93.7 L522.7 96.2 L522.2 98.6 L522.0 100.9 L521.9 103.1 L522.0 105.2 L522.3 107.1 L522.9 108.9 L523.6 110.5 L524.5 112.0 L525.6 113.3 L526.8 114.3 L528.3 115.2 L529.9 116.0 L531.7 116.5 L533.6 116.8 L535.7 116.9 L537.9 116.8 L540.3 116.6 L542.7 116.1 L545.2 115.4 L547.9 114.6 L550.6 113.5 L553.3 112.3 L556.1 110.9 L559.0 109.3 L561.8 107.6 L564.7 105.7 L567.6 103.6 L570.4 101.4 L573.2 99.1 L575.9 96.7 L578.6 94.2 L581.2 91.6 L583.7 89.0 L586.2 86.2 L588.5 83.4 L590.7 80.6 L592.7 77.8 L594.6 74.9 L596.3 72.0 L597.9 69.2 L599.3 66.4 L600.6 63.7 L601.6 61.0 L602.5 58.4 L603.2 55.8 L603.6 53.4 L603.9 51.1 L604.0 48.9 L603.9 46.8 L603.6 44.9 L603.0 43.1 L602.3 41.5 L601.4 40.0 Z" fill="rgb(84,117,157)" fill-opacity="0.76" stroke="none"/>
<path d="M626.6 52.5 L624.9 51.0 L623.1 49.7 L621.0 48.6 L618.8 47.8 L616.5 47.1 L614.0 46.7 L611.3 46.5 L608.6 46.5 L605.7 46.7 L602.8 47.2 L599.8 47.9 L596.7 48.8 L593.5 49.9 L590.4 51.2 L587.2 52.7 L584.0 54.4 L580.8 56.2 L577.7 58.3 L574.6 60.5 L571.5 62.9 L568.6 65.4 L565.7 68.0 L562.9 70.8 L560.3 73.7 L557.8 76.6 L555.4 79.6 L553.2 82.7 L551.1 85.8 L549.2 89.0 L547.5 92.2 L546.0 95.3 L544.7 98.5 L543.6 101.6 L542.7 104.7 L542.0 107.7 L541.6 110.7 L541.3 113.5 L541.3 116.2 L541.5 118.9 L542.0 121.4 L542.6 123.7 L543.5 125.9 L544.6 127.9 L545.8 129.8 L547.3 131.5 L549.0 132.9 L550.9 134.2 L552.9 135.3 L555.1 136.2 L557.5 136.8 L560.0 137.2 L562.6 137.4 L565.4 137.4 L568.2 137.2 L571.2 136.7 L574.2 136.1 L577.3 135.2 L580.4 134.1 L583.6 132.8 L586.8 131.3 L590.0 129.6 L593.1 127.7 L596.3 125.6 L599.4 123.4 L602.4 121.1 L605.4 118.5 L608.2 115.9 L611.0 113.1 L613.6 110.3 L616.2 107.3 L618.5 104.3 L620.8 101.2 L622.8 98.1 L624.7 94.9 L626.4 91.8 L627.9 88.6 L629.2 85.4 L630.3 82.3 L631.2 79.2 L631.9 76.2 L632.4 73.3 L632.6 70.4 L632.6 67.7 L632.4 65.1 L632.0 62.6 L631.3 60.2 L630.5 58.0 L629.4 56.0 L628.1 54.1 Z" fill="rgb(218,182,94)" fill-opacity="0.62" stroke="none"/>
<path d="M499.3 52.5 L497.8 54.1 L496.5 56.0 L495.4 58.0 L494.6 60.2 L493.9 62.6 L493.5 65.1 L493.3 67.7 L493.3 70.4 L493.5 73.3 L494.0 76.2 L494.7 79.2 L495.6 82.3 L496.7 85.4 L498.0 88.6 L499.5 91.8 L501.2 94.9 L503.1 98.1 L505.1 101.2 L507.3 104.3 L509.7 107.3 L512.2 110.3 L514.9 113.1 L517.7 115.9 L520.5 118.5 L523.5 121.1 L526.5 123.4 L529.6 125.6 L532.8 127.7 L535.9 129.6 L539.1 131.3 L542.3 132.8 L545.5 134.1 L548.6 135.2 L551.7 136.1 L554.7 136.7 L557.7 137.2 L560.5 137.4 L563.3 137.4 L565.9 137.2 L568.4 136.8 L570.8 136.2 L573.0 135.3 L575.0 134.2 L576.9 132.9 L578.6 131.5 L580.0 129.8 L581.3 127.9 L582.4 125.9 L583.3 123.7 L583.9 121.4 L584.3 118.9 L584.6 116.2 L584.5 113.5 L584.3 110.7 L583.8 107.7 L583.2 104.7 L582.3 101.6 L581.2 98.5 L579.9 95.3 L578.4 92.2 L576.7 89.0 L574.8 85.8 L572.7 82.7 L570.5 79.6 L568.1 76.6 L565.6 73.7 L562.9 70.8 L560.2 68.0 L557.3 65.4 L554.3 62.9 L551.3 60.5 L548.2 58.3 L545.1 56.2 L541.9 54.4 L538.7 52.7 L535.5 51.2 L532.4 49.9 L529.2 48.8 L526.1 47.9 L523.1 47.2 L520.2 46.7 L517.3 46.5 L514.6 46.5 L511.9 46.7 L509.4 47.1 L507.1 47.8 L504.9 48.6 L502.8 49.7 L501.0 51.0 Z" fill="none" stroke="#1a1a1a" stroke-width="0.5"/>
<path d="M523.3 36.5 L522.2 37.8 L521.3 39.3 L520.6 40.9 L520.2 42.7 L519.9 44.7 L519.8 46.8 L520.0 49.1 L520.3 51.5 L520.9 54.0 L521.7 56.6 L522.6 59.4 L523.8 62.2 L525.2 65.0 L526.7 68.0 L528.4 70.9 L530.3 73.9 L532.3 76.9 L534.5 79.9 L536.9 82.9 L539.3 85.8 L541.9 88.7 L544.6 91.5 L547.3 94.3 L550.2 97.0 L553.1 99.5 L556.1 102.0 L559.0 104.3 L562.0 106.5 L565.1 108.5 L568.1 110.4 L571.0 112.1 L574.0 113.7 L576.8 115.0 L579.7 116.2 L582.4 117.1 L585.0 117.9 L587.6 118.5 L590.0 118.8 L592.2 119.0 L594.4 118.9 L596.4 118.6 L598.2 118.2 L599.8 117.5 L601.3 116.6 L602.6 115.5 L603.7 114.2 L604.6 112.8 L605.3 111.1 L605.7 109.3 L606.0 107.3 L606.1 105.2 L605.9 102.9 L605.6 100.5 L605.0 98.0 L604.2 95.4 L603.3 92.7 L602.1 89.9 L600.7 87.0 L599.2 84.1 L597.5 81.1 L595.6 78.1 L593.5 75.1 L591.4 72.1 L589.0 69.1 L586.6 66.2 L584.0 63.3 L581.3 60.5 L578.5 57.7 L575.7 55.0 L572.8 52.5 L569.8 50.0 L566.9 47.7 L563.8 45.5 L560.8 43.5 L557.8 41.6 L554.9 39.9 L551.9 38.4 L549.0 37.0 L546.2 35.8 L543.5 34.9 L540.9 34.1 L538.3 33.5 L535.9 33.2 L533.6 33.0 L531.5 33.1 L529.5 33.4 L527.7 33.9 L526.1 34.5 L524.6 35.4 Z" fill="none" stroke="#1a1a1a" stroke-width="0.5"/>
<path d="M600.3 38.8 L599.0 37.7 L597.6 36.8 L596.0 36.1 L594.2 35.5 L592.3 35.2 L590.2 35.1 L588.0 35.2 L585.6 35.5 L583.2 35.9 L580.7 36.6 L578.0 37.5 L575.3 38.5 L572.6 39.7 L569.8 41.1 L566.9 42.7 L564.1 44.5 L561.2 46.4 L558.3 48.4 L555.5 50.6 L552.7 52.9 L550.0 55.3 L547.3 57.8 L544.7 60.4 L542.1 63.1 L539.7 65.8 L537.4 68.6 L535.2 71.4 L533.2 74.3 L531.3 77.1 L529.5 80.0 L528.0 82.8 L526.5 85.6 L525.3 88.3 L524.3 91.0 L523.4 93.7 L522.7 96.2 L522.2 98.6 L522.0 100.9 L521.9 103.1 L522.0 105.2 L522.3 107.1 L522.9 108.9 L523.6 110.5 L524.5 112.0 L525.6 113.3 L526.8 114.3 L528.3 115.2 L529.9 116.0 L531.7 116.5 L533.6 116.8 L535.7 116.9 L537.9 116.8 L540.3 116.6 L542.7 116.1 L545.2 115.4 L547.9 114.6 L550.6 113.5 L553.3 112.3 L556.1 110.9 L559.0 109.3 L561.8 107.6 L564.7 105.7 L567.6 103.6 L570.4 101.4 L573.2 99.1 L575.9 96.7 L578.6 94.2 L581.2 91.6 L583.7 89.0 L586.2 86.2 L588.5 83.4 L590.7 80.6 L592.7 77.8 L594.6 74.9 L596.3 72.0 L597.9 69.2 L599.3 66.4 L600.6 63.7 L601.6 61.0 L602.5 58.4 L603.2 55.8 L603.6 53.4 L603.9 51.1 L604.0 48.9 L603.9 46.8 L603.6 44.9 L603.0 43.1 L602.3 41.5 L601.4 40.0 Z" fill="none" stroke="#1a1a1a" stroke-width="0.5"/>
<path d="M626.6 52.5 L624.9 51.0 L623.1 49.7 L621.0 48.6 L618.8 47.8 L616.5 47.1 L614.0 46.7 L611.3 46.5 L608.6 46.5 L605.7 46.7 L602.8 47.2 L599.8 47.9 L596.7 48.8 L593.5 49.9 L590.4 51.2 L587.2 52.7 L584.0 54.4 L580.8 56.2 L577.7 58.3 L574.6 60.5 L571.5 62.9 L568.6 65.4 L565.7 68.0 L562.9 70.8 L560.3 73.7 L557.8 76.6 L555.4 79.6 L553.2 82.7 L551.1 85.8 L549.2 89.0 L547.5 92.2 L546.0 95.3 L544.7 98.5 L543.6 101.6 L542.7 104.7 L542.0 107.7 L541.6 110.7 L541.3 113.5 L541.3 116.2 L541.5 118.9 L542.0 121.4 L542.6 123.7 L543.5 125.9 L544.6 127.9 L545.8 129.8 L547.3 131.5 L549.0 132.9 L550.9 134.2 L552.9 135.3 L555.1 136.2 L557.5 136.8 L560.0 137.2 L562.6 137.4 L565.4 137.4 L568.2 137.2 L571.2 136.7 L574.2 136.1 L577.3 135.2 L580.4 134.1 L583.6 132.8 L586.8 131.3 L590.0 129.6 L593.1 127.7 L596.3 125.6 L599.4 123.4 L602.4 121.1 L605.4 118.5 L608.2 115.9 L611.0 113.1 L613.6 110.3 L616.2 107.3 L618.5 104.3 L620.8 101.2 L622.8 98.1 L624.7 94.9 L626.4 91.8 L627.9 88.6 L629.2 85.4 L630.3 82.3 L631.2 79.2 L631.9 76.2 L632.4 73.3 L632.6 70.4 L632.6 67.7 L632.4 65.1 L632.0 62.6 L631.3 60.2 L630.5 58.0 L629.4 56.0 L628.1 54.1 Z" fill="none" stroke="#1a1a1a" stroke-width="0.5"/>
<text x="498.5" y="42.8" font-size="6.2" text-anchor="middle" fill="#222" font-family="Liberation Sans, sans-serif">IMG/VR</text>
<text x="529.5" y="31.0" font-size="6.2" text-anchor="middle" fill="#222" font-family="Liberation Sans, sans-serif">GWVC</text>
<text x="590.0" y="29.6" font-size="6.2" text-anchor="middle" fill="#222" font-family="Liberation Sans, sans-serif">CPR-AMD</text>
<text x="625.5" y="41.8" font-size="6.2" text-anchor="middle" fill="#222" font-family="Liberation Sans, sans-serif">DPANN-AMD</text>
<text x="541.4" y="46.2" font-size="6.2" text-anchor="middle" fill="#1a1a1a" font-family="Liberation Sans, sans-serif">3885</text>
<text x="585.4" y="47.2" font-size="6.2" text-anchor="middle" fill="#1a1a1a" font-family="Liberation Sans, sans-serif">231</text>
<text x="531.8" y="61.9" font-size="6.2" text-anchor="middle" fill="#1a1a1a" font-family="Liberation Sans, sans-serif">22</text>
<text x="560.7" y="60.0" font-size="6.2" text-anchor="middle" fill="#1a1a1a" font-family="Liberation Sans, sans-serif">1</text>
<text x="592.5" y="61.9" font-size="6.2" text-anchor="middle" fill="#1a1a1a" font-family="Liberation Sans, sans-serif">6</text>
<text x="515.7" y="86.7" font-size="6.2" text-anchor="middle" fill="#1a1a1a" font-family="Liberation Sans, sans-serif">235</text>
<text x="546.2" y="76.7" font-size="6.2" text-anchor="middle" fill="#1a1a1a" font-family="Liberation Sans, sans-serif">0</text>
<text x="578.0" y="76.7" font-size="6.2" text-anchor="middle" fill="#1a1a1a" font-family="Liberation Sans, sans-serif">0</text>
<text x="610.5" y="85.1" font-size="6.2" text-anchor="middle" fill="#1a1a1a" font-family="Liberation Sans, sans-serif">88</text>
<text x="562.0" y="92.8" font-size="6.2" text-anchor="middle" fill="#1a1a1a" font-family="Liberation Sans, sans-serif">0</text>
<text x="532.4" y="101.1" font-size="6.2" text-anchor="middle" fill="#1a1a1a" font-family="Liberation Sans, sans-serif">2</text>
<text x="591.2" y="102.1" font-size="6.2" text-anchor="middle" fill="#1a1a1a" font-family="Liberation Sans, sans-serif">0</text>
<text x="549.1" y="108.2" font-size="6.2" text-anchor="middle" fill="#1a1a1a" font-family="Liberation Sans, sans-serif">1</text>
<text x="575.1" y="108.2" font-size="6.2" text-anchor="middle" fill="#1a1a1a" font-family="Liberation Sans, sans-serif">0</text>
<text x="561.7" y="124.9" font-size="6.2" text-anchor="middle" fill="#1a1a1a" font-family="Liberation Sans, sans-serif">2</text>
</g>
<g id="panelD">
<text x="-1.2" y="286.9" font-size="13.5" font-weight="bold" fill="#000" font-family="Liberation Sans, sans-serif">d</text>
<path d="M31.8 382.7 L31.8 288.8" stroke="#8c8c8c" stroke-width="0.6"/>
<path d="M30 382.7 L31.8 382.7" stroke="#8c8c8c" stroke-width="0.6"/>
<text transform="translate(28.3 382.7) rotate(-90)" font-size="6.8" text-anchor="middle" fill="#333" font-family="Liberation Sans, sans-serif">0</text>
<path d="M30 363.9 L31.8 363.9" stroke="#8c8c8c" stroke-width="0.6"/>
<text transform="translate(28.3 363.9) rotate(-90)" font-size="6.8" text-anchor="middle" fill="#333" font-family="Liberation Sans, sans-serif">10</text>
<path d="M30 345.1 L31.8 345.1" stroke="#8c8c8c" stroke-width="0.6"/>
<text transform="translate(28.3 345.1) rotate(-90)" font-size="6.8" text-anchor="middle" fill="#333" font-family="Liberation Sans, sans-serif">20</text>
<path d="M30 326.4 L31.8 326.4" stroke="#8c8c8c" stroke-width="0.6"/>
<text transform="translate(28.3 326.4) rotate(-90)" font-size="6.8" text-anchor="middle" fill="#333" font-family="Liberation Sans, sans-serif">30</text>
<path d="M30 307.6 L31.8 307.6" stroke="#8c8c8c" stroke-width="0.6"/>
<text transform="translate(28.3 307.6) rotate(-90)" font-size="6.8" text-anchor="middle" fill="#333" font-family="Liberation Sans, sans-serif">40</text>
<path d="M30 288.8 L31.8 288.8" stroke="#8c8c8c" stroke-width="0.6"/>
<text transform="translate(28.3 288.8) rotate(-90)" font-size="6.8" text-anchor="middle" fill="#333" font-family="Liberation Sans, sans-serif">50</text>
<text transform="translate(16.2 332.0) rotate(-90)" font-size="9.3" text-anchor="middle" fill="#222" font-family="Liberation Sans, sans-serif">Order (%)</text>
<rect x="34.6" y="280.2" width="30.1" height="103.0" fill="#b7b8ba" stroke="#444" stroke-width="0.65"/>
<rect x="70.4" y="297.2" width="29.6" height="86.0" fill="#ae819b" stroke="#444" stroke-width="0.65"/>
<text transform="translate(49.5 391.2) rotate(-33)" font-size="7.9" text-anchor="end" fill="#222" font-family="Liberation Sans, sans-serif">Unknow</text>
<text transform="translate(91 389.7) rotate(-33)" font-size="7.9" text-anchor="end" fill="#222" font-family="Liberation Sans, sans-serif">Caudoviricetes</text>
<path d="M31.8 525.5 L31.8 431.6" stroke="#8c8c8c" stroke-width="0.6"/>
<path d="M30 525.5 L31.8 525.5" stroke="#8c8c8c" stroke-width="0.6"/>
<text transform="translate(28.3 525.5) rotate(-90)" font-size="6.8" text-anchor="middle" fill="#333" font-family="Liberation Sans, sans-serif">0</text>
<path d="M30 506.7 L31.8 506.7" stroke="#8c8c8c" stroke-width="0.6"/>
<text transform="translate(28.3 506.7) rotate(-90)" font-size="6.8" text-anchor="middle" fill="#333" font-family="Liberation Sans, sans-serif">10</text>
<path d="M30 487.9 L31.8 487.9" stroke="#8c8c8c" stroke-width="0.6"/>
<text transform="translate(28.3 487.9) rotate(-90)" font-size="6.8" text-anchor="middle" fill="#333" font-family="Liberation Sans, sans-serif">20</text>
<path d="M30 469.2 L31.8 469.2" stroke="#8c8c8c" stroke-width="0.6"/>
<text transform="translate(28.3 469.2) rotate(-90)" font-size="6.8" text-anchor="middle" fill="#333" font-family="Liberation Sans, sans-serif">30</text>
<path d="M30 450.4 L31.8 450.4" stroke="#8c8c8c" stroke-width="0.6"/>
<text transform="translate(28.3 450.4) rotate(-90)" font-size="6.8" text-anchor="middle" fill="#333" font-family="Liberation Sans, sans-serif">40</text>
<path d="M30 431.6 L31.8 431.6" stroke="#8c8c8c" stroke-width="0.6"/>
<text transform="translate(28.3 431.6) rotate(-90)" font-size="6.8" text-anchor="middle" fill="#333" font-family="Liberation Sans, sans-serif">50</text>
<text transform="translate(16.2 474.8) rotate(-90)" font-size="9.3" text-anchor="middle" fill="#222" font-family="Liberation Sans, sans-serif">Order (%)</text>
<rect x="34.6" y="439.7" width="30.1" height="86.3" fill="#b7b8ba" stroke="#444" stroke-width="0.65"/>
<rect x="70.4" y="422.7" width="29.6" height="103.3" fill="#ae819b" stroke="#444" stroke-width="0.65"/>
<text transform="translate(49.5 534.0) rotate(-33)" font-size="7.9" text-anchor="end" fill="#222" font-family="Liberation Sans, sans-serif">Unknow</text>
<text transform="translate(91 532.5) rotate(-33)" font-size="7.9" text-anchor="end" fill="#222" font-family="Liberation Sans, sans-serif">Caudoviricetes</text>
<text x="189.4" y="283.8" font-size="9.3" font-weight="bold" text-anchor="middle" fill="#000" font-family="Liberation Sans, sans-serif">CPR</text>
<path d="M189.40 340.00 L233.70 340.00 A44.30 44.30 0 0 0 215.94 304.53 Z" fill="#b0d9a0" fill-opacity="1" stroke="#fff" stroke-width="0.45" stroke-linejoin="round"/>
<path d="M189.40 340.00 L215.94 304.53 A44.30 44.30 0 0 0 182.47 296.25 Z" fill="#9a8c85" fill-opacity="1" stroke="#fff" stroke-width="0.45" stroke-linejoin="round"/>
<path d="M189.40 340.00 L182.47 296.25 A44.30 44.30 0 0 0 157.37 309.39 Z" fill="#d86e70" fill-opacity="1" stroke="#fff" stroke-width="0.45" stroke-linejoin="round"/>
<path d="M168.8 300.8 L167.6 298.4" stroke="#222" stroke-width="0.5"/>
<path d="M189.40 340.00 L157.37 309.39 A44.30 44.30 0 0 0 146.24 330.03 Z" fill="#dfc898" fill-opacity="1" stroke="#fff" stroke-width="0.45" stroke-linejoin="round"/>
<path d="M150.4 319.0 L148.1 317.7" stroke="#222" stroke-width="0.5"/>
<path d="M189.40 340.00 L146.24 330.03 A44.30 44.30 0 0 0 147.15 353.32 Z" fill="#74b7cd" fill-opacity="1" stroke="#fff" stroke-width="0.45" stroke-linejoin="round"/>
<path d="M145.1 341.7 L142.5 341.8" stroke="#222" stroke-width="0.5"/>
<path d="M189.40 340.00 L147.15 353.32 A44.30 44.30 0 0 0 155.87 368.95 Z" fill="#8296c9" fill-opacity="1" stroke="#fff" stroke-width="0.45" stroke-linejoin="round"/>
<path d="M150.7 361.6 L148.4 362.9" stroke="#222" stroke-width="0.5"/>
<path d="M189.40 340.00 L155.87 368.95 A44.30 44.30 0 0 0 171.38 380.47 Z" fill="#79ad5b" fill-opacity="1" stroke="#fff" stroke-width="0.45" stroke-linejoin="round"/>
<path d="M163.0 375.6 L161.4 377.7" stroke="#222" stroke-width="0.5"/>
<path d="M189.40 340.00 L171.38 380.47 A44.30 44.30 0 0 0 187.39 384.25 Z" fill="#dcb0a0" fill-opacity="1" stroke="#fff" stroke-width="0.45" stroke-linejoin="round"/>
<path d="M179.2 383.1 L178.6 385.7" stroke="#222" stroke-width="0.5"/>
<path d="M189.40 340.00 L187.39 384.25 A44.30 44.30 0 0 0 203.31 382.06 Z" fill="#d57cb6" fill-opacity="1" stroke="#fff" stroke-width="0.45" stroke-linejoin="round"/>
<path d="M195.5 383.9 L195.8 386.5" stroke="#222" stroke-width="0.5"/>
<path d="M189.40 340.00 L203.31 382.06 A44.30 44.30 0 0 0 217.34 374.38 Z" fill="#8a70b8" fill-opacity="1" stroke="#fff" stroke-width="0.45" stroke-linejoin="round"/>
<path d="M210.7 378.9 L212.0 381.2" stroke="#222" stroke-width="0.5"/>
<path d="M189.40 340.00 L217.34 374.38 A44.30 44.30 0 0 0 226.00 364.96 Z" fill="#cfdfd4" fill-opacity="1" stroke="#fff" stroke-width="0.45" stroke-linejoin="round"/>
<path d="M222.0 370.0 L224.0 371.8" stroke="#222" stroke-width="0.5"/>
<path d="M189.40 340.00 L226.00 364.96 A44.30 44.30 0 0 0 230.39 356.81 Z" fill="#566585" fill-opacity="1" stroke="#fff" stroke-width="0.45" stroke-linejoin="round"/>
<path d="M228.4 361.0 L230.7 362.3" stroke="#222" stroke-width="0.5"/>
<path d="M189.40 340.00 L230.39 356.81 A44.30 44.30 0 0 0 233.08 347.39 Z" fill="#c9b4dc" fill-opacity="1" stroke="#fff" stroke-width="0.45" stroke-linejoin="round"/>
<path d="M232.0 352.2 L234.6 352.9" stroke="#222" stroke-width="0.5"/>
<path d="M189.40 340.00 L233.08 347.39 A44.30 44.30 0 0 0 233.48 344.40 Z" fill="#6fc38b" fill-opacity="1" stroke="#fff" stroke-width="0.45" stroke-linejoin="round"/>
<path d="M233.3 345.9 L235.9 346.3" stroke="#222" stroke-width="0.5"/>
<path d="M189.40 340.00 L233.48 344.40 A44.30 44.30 0 0 0 233.64 342.32 Z" fill="#5fc1b8" fill-opacity="1" stroke="#fff" stroke-width="0.45" stroke-linejoin="round"/>
<path d="M189.40 340.00 L233.64 342.32 A44.30 44.30 0 0 0 233.70 340.00 Z" fill="#e8dd6c" fill-opacity="1" stroke="#fff" stroke-width="0.45" stroke-linejoin="round"/>
<text x="188.9" y="424.1" font-size="9.3" font-weight="bold" text-anchor="middle" fill="#000" font-family="Liberation Sans, sans-serif">DPANN</text>
<path d="M188.90 477.40 L233.40 477.40 A44.50 44.50 0 0 0 200.42 434.42 Z" fill="#dcb0a0" fill-opacity="1" stroke="#fff" stroke-width="0.45" stroke-linejoin="round"/>
<path d="M224.2 450.3 L226.3 448.7" stroke="#222" stroke-width="0.5"/>
<path d="M188.90 477.40 L200.42 434.42 A44.50 44.50 0 0 0 153.50 450.43 Z" fill="#b0d9a0" fill-opacity="1" stroke="#fff" stroke-width="0.45" stroke-linejoin="round"/>
<path d="M174.5 435.3 L173.7 432.8" stroke="#222" stroke-width="0.5"/>
<path d="M188.90 477.40 L153.50 450.43 A44.50 44.50 0 0 0 150.72 500.25 Z" fill="#6fc38b" fill-opacity="1" stroke="#fff" stroke-width="0.45" stroke-linejoin="round"/>
<path d="M144.5 474.9 L141.8 474.8" stroke="#222" stroke-width="0.5"/>
<path d="M188.90 477.40 L150.72 500.25 A44.50 44.50 0 0 0 174.63 519.55 Z" fill="#d86e70" fill-opacity="1" stroke="#fff" stroke-width="0.45" stroke-linejoin="round"/>
<path d="M161.0 512.0 L159.3 514.1" stroke="#222" stroke-width="0.5"/>
<path d="M188.90 477.40 L174.63 519.55 A44.50 44.50 0 0 0 185.49 521.77 Z" fill="#9a8c85" fill-opacity="1" stroke="#fff" stroke-width="0.45" stroke-linejoin="round"/>
<path d="M180.0 521.0 L179.5 523.6" stroke="#222" stroke-width="0.5"/>
<path d="M188.90 477.40 L185.49 521.77 A44.50 44.50 0 0 0 195.09 521.47 Z" fill="#dfc898" fill-opacity="1" stroke="#fff" stroke-width="0.45" stroke-linejoin="round"/>
<path d="M188.90 477.40 L195.09 521.47 A44.50 44.50 0 0 0 205.43 518.72 Z" fill="#8296c9" fill-opacity="1" stroke="#fff" stroke-width="0.45" stroke-linejoin="round"/>
<path d="M188.90 477.40 L205.43 518.72 A44.50 44.50 0 0 0 213.98 514.16 Z" fill="#d57cb6" fill-opacity="1" stroke="#fff" stroke-width="0.45" stroke-linejoin="round"/>
<path d="M209.8 516.7 L211.1 519.0" stroke="#222" stroke-width="0.5"/>
<path d="M188.90 477.40 L213.98 514.16 A44.50 44.50 0 0 0 222.59 506.48 Z" fill="#cfdfd4" fill-opacity="1" stroke="#fff" stroke-width="0.45" stroke-linejoin="round"/>
<path d="M218.5 510.6 L220.3 512.6" stroke="#222" stroke-width="0.5"/>
<path d="M188.90 477.40 L222.59 506.48 A44.50 44.50 0 0 0 228.62 497.46 Z" fill="#566585" fill-opacity="1" stroke="#fff" stroke-width="0.45" stroke-linejoin="round"/>
<path d="M225.9 502.2 L228.1 503.6" stroke="#222" stroke-width="0.5"/>
<path d="M188.90 477.40 L228.62 497.46 A44.50 44.50 0 0 0 232.13 487.94 Z" fill="#c9b4dc" fill-opacity="1" stroke="#fff" stroke-width="0.45" stroke-linejoin="round"/>
<path d="M230.6 492.8 L233.2 493.7" stroke="#222" stroke-width="0.5"/>
<path d="M188.90 477.40 L232.13 487.94 A44.50 44.50 0 0 0 233.08 482.75 Z" fill="#79ad5b" fill-opacity="1" stroke="#fff" stroke-width="0.45" stroke-linejoin="round"/>
<path d="M232.7 485.4 L235.3 485.8" stroke="#222" stroke-width="0.5"/>
<path d="M188.90 477.40 L233.08 482.75 A44.50 44.50 0 0 0 233.40 477.40 Z" fill="#c5b59b" fill-opacity="1" stroke="#fff" stroke-width="0.45" stroke-linejoin="round"/>
<text x="207.9" y="298.0" font-size="7.6" text-anchor="start" fill="#000" font-family="Liberation Sans, sans-serif">Mesyanzhinovviridae</text>
<text x="230.7" y="313.8" font-size="7.6" text-anchor="start" fill="#000" font-family="Liberation Sans, sans-serif">Chaseviridae</text>
<text x="236.2" y="330.1" font-size="7.6" text-anchor="start" fill="#000" font-family="Liberation Sans, sans-serif">Zierdtviridae</text>
<text x="238.6" y="340.2" font-size="7.6" text-anchor="start" fill="#000" font-family="Liberation Sans, sans-serif">Vilmaviridae</text>
<text x="237.6" y="348.5" font-size="7.6" text-anchor="start" fill="#000" font-family="Liberation Sans, sans-serif">Zobellviridae</text>
<text x="236.6" y="357.0" font-size="7.6" text-anchor="start" fill="#000" font-family="Liberation Sans, sans-serif">Casjensviridae</text>
<text x="232.1" y="365.9" font-size="7.6" text-anchor="start" fill="#000" font-family="Liberation Sans, sans-serif">Autographiviridae</text>
<text x="225.7" y="374.8" font-size="7.6" text-anchor="start" fill="#000" font-family="Liberation Sans, sans-serif">Demerecviridae</text>
<text x="214.3" y="383.1" font-size="7.6" text-anchor="start" fill="#000" font-family="Liberation Sans, sans-serif">Ackermannviridae</text>
<text x="197.5" y="390.9" font-size="7.6" text-anchor="start" fill="#000" font-family="Liberation Sans, sans-serif">Straboviridae</text>
<text x="170.1" y="298.4" font-size="7.6" text-anchor="end" fill="#000" font-family="Liberation Sans, sans-serif">Salasmaviridae</text>
<text x="159.3" y="318.8" font-size="7.6" text-anchor="end" fill="#000" font-family="Liberation Sans, sans-serif">Kyanoviridae</text>
<text x="154.0" y="343.6" font-size="7.6" text-anchor="end" fill="#000" font-family="Liberation Sans, sans-serif">Peduoviridae</text>
<text x="154.9" y="366.4" font-size="7.6" text-anchor="end" fill="#000" font-family="Liberation Sans, sans-serif">Guelinviridae</text>
<text x="161.9" y="382.2" font-size="7.6" text-anchor="end" fill="#000" font-family="Liberation Sans, sans-serif">Herelleviridae</text>
<text x="179.4" y="390.1" font-size="7.6" text-anchor="end" fill="#000" font-family="Liberation Sans, sans-serif">Drexlerviridae</text>
<path d="M200.1 297.0 L207.4 295.6" stroke="#222" stroke-width="0.5"/>
<path d="M228.7 320.6 L229.4 313.5" stroke="#222" stroke-width="0.5"/>
<path d="M233.7 339.3 L235.4 329.5" stroke="#222" stroke-width="0.5"/>
<path d="M233.6 341.5 L236.2 336.9" stroke="#222" stroke-width="0.5"/>
<text x="227.9" y="450.7" font-size="7.6" text-anchor="start" fill="#000" font-family="Liberation Sans, sans-serif">Drexlerviridae</text>
<text x="237.8" y="475.2" font-size="7.6" text-anchor="start" fill="#000" font-family="Liberation Sans, sans-serif">Schitoviridae</text>
<text x="239.0" y="485.4" font-size="7.6" text-anchor="start" fill="#000" font-family="Liberation Sans, sans-serif">Herelleviridae</text>
<text x="234.9" y="496.5" font-size="7.6" text-anchor="start" fill="#000" font-family="Liberation Sans, sans-serif">Casjensviridae</text>
<text x="229.3" y="507.0" font-size="7.6" text-anchor="start" fill="#000" font-family="Liberation Sans, sans-serif">Autographiviridae</text>
<text x="221.8" y="516.1" font-size="7.6" text-anchor="start" fill="#000" font-family="Liberation Sans, sans-serif">Demerecviridae</text>
<text x="212.4" y="524.5" font-size="7.6" text-anchor="start" fill="#000" font-family="Liberation Sans, sans-serif">Straboviridae</text>
<text x="198.7" y="532.7" font-size="7.6" text-anchor="start" fill="#000" font-family="Liberation Sans, sans-serif">Kyanoviridae</text>
<text x="187.0" y="540.6" font-size="7.6" text-anchor="start" fill="#000" font-family="Liberation Sans, sans-serif">Guelinviridae</text>
<text x="180.6" y="441.9" font-size="7.6" text-anchor="end" fill="#000" font-family="Liberation Sans, sans-serif">Chaseviridae</text>
<text x="158.4" y="483.1" font-size="7.6" text-anchor="end" fill="#000" font-family="Liberation Sans, sans-serif">Zobellviridae</text>
<text x="170.1" y="508.8" font-size="7.6" text-anchor="end" fill="#000" font-family="Liberation Sans, sans-serif">Salasmaviridae</text>
<text x="187.0" y="527.4" font-size="7.6" text-anchor="end" fill="#000" font-family="Liberation Sans, sans-serif">Mesyanzhinovviridae</text>
<path d="M233.3 479.4 L236.3 473.8" stroke="#222" stroke-width="0.5"/>
<path d="M200.3 520.9 L201.3 526.2" stroke="#222" stroke-width="0.5"/>
<path d="M190.4 522.9 L191.4 531.5" stroke="#222" stroke-width="0.5"/>
</g>
<g id="panelE">
<text x="325.6" y="303.7" font-size="13.5" font-weight="bold" fill="#000" font-family="Liberation Sans, sans-serif">e</text>
<path d="M334.8 343.10 L339.9 343.25 L344.9 343.68 L349.6 344.39 L354.1 345.37 L358.5 346.59 L362.6 348.05 L366.7 349.74 L370.5 351.64 L374.2 353.73 L377.8 356.02 L381.3 358.48 L384.6 361.10 L387.8 363.87 L390.9 366.78 L394.0 369.81 L396.9 372.95 L399.8 376.19 L402.6 379.51 L405.3 382.91 L408.0 386.37 L410.7 389.88 L413.3 393.43 L415.9 397.00 L418.6 400.58 L421.2 404.16 L423.8 407.72 L426.4 411.26 L429.1 414.76 L431.8 418.21 L434.5 421.60 L437.3 424.91 L440.1 428.14 L443.1 431.26 L446.1 434.27 L449.2 437.15 L452.4 439.90 L455.7 442.49 L459.1 444.93 L462.6 447.19 L466.3 449.27 L470.1 451.14 L474.1 452.81 L478.2 454.25 L482.5 455.46 L487.0 456.42 L491.7 457.12 L496.5 457.55 L501.6 457.70 L501.6 458.60 L496.5 458.45 L491.5 458.02 L486.8 457.30 L482.3 456.33 L477.9 455.10 L473.7 453.64 L469.7 451.95 L465.9 450.05 L462.2 447.95 L458.6 445.66 L455.1 443.20 L451.8 440.58 L448.6 437.81 L445.5 434.90 L442.4 431.87 L439.5 428.73 L436.6 425.49 L433.8 422.16 L431.1 418.76 L428.4 415.30 L425.7 411.79 L423.1 408.24 L420.5 404.67 L417.8 401.09 L415.2 397.51 L412.6 393.94 L410.0 390.40 L407.3 386.90 L404.6 383.45 L401.9 380.06 L399.1 376.75 L396.3 373.53 L393.3 370.40 L390.3 367.39 L387.2 364.51 L384.0 361.76 L380.7 359.16 L377.3 356.72 L373.8 354.46 L370.1 352.38 L366.3 350.51 L362.3 348.84 L358.2 347.39 L353.9 346.18 L349.4 345.22 L344.8 344.52 L339.9 344.08 L334.8 343.94 Z" fill="rgb(221,195,123)" fill-opacity="0.85"/>
<path d="M334.8 343.94 L341.0 344.13 L347.0 344.70 L352.9 345.64 L358.5 346.92 L364.0 348.55 L369.2 350.49 L374.2 352.72 L379.0 355.21 L383.5 357.95 L387.9 360.89 L392.0 364.02 L396.0 367.30 L399.7 370.72 L403.3 374.26 L406.7 377.89 L410.0 381.60 L413.1 385.37 L416.2 389.19 L419.1 393.04 L422.0 396.91 L424.7 400.78 L427.5 404.65 L430.1 408.50 L432.7 412.31 L435.3 416.07 L437.9 419.78 L440.4 423.41 L443.0 426.95 L445.5 430.40 L448.0 433.73 L450.6 436.94 L453.2 440.01 L455.7 442.93 L458.3 445.70 L461.0 448.30 L463.6 450.72 L466.3 452.97 L469.0 455.03 L471.8 456.91 L474.6 458.61 L477.5 460.12 L480.5 461.45 L483.6 462.60 L486.8 463.56 L490.2 464.34 L493.8 464.91 L497.6 465.27 L501.6 465.40 L501.6 500.40 L495.4 500.22 L489.4 499.66 L483.6 498.74 L477.9 497.47 L472.5 495.86 L467.3 493.94 L462.3 491.72 L457.5 489.24 L453.0 486.52 L448.6 483.59 L444.5 480.48 L440.5 477.21 L436.8 473.80 L433.2 470.28 L429.8 466.66 L426.5 462.96 L423.3 459.19 L420.3 455.39 L417.3 451.54 L414.5 447.68 L411.7 443.81 L409.0 439.95 L406.3 436.12 L403.7 432.31 L401.1 428.55 L398.5 424.86 L395.9 421.23 L393.4 417.69 L390.8 414.26 L388.3 410.93 L385.7 407.73 L383.2 404.67 L380.6 401.76 L378.0 399.00 L375.3 396.42 L372.7 394.00 L370.0 391.77 L367.3 389.72 L364.5 387.86 L361.7 386.18 L358.8 384.68 L355.8 383.36 L352.7 382.23 L349.5 381.28 L346.1 380.52 L342.6 379.96 L338.8 379.62 L334.8 379.50 Z" fill="rgb(221,195,123)" fill-opacity="0.85"/>
<path d="M334.8 386.50 L340.5 386.68 L346.0 387.20 L351.4 388.04 L356.5 389.21 L361.5 390.68 L366.2 392.43 L370.8 394.45 L375.2 396.71 L379.4 399.20 L383.4 401.90 L387.2 404.77 L390.9 407.81 L394.4 411.00 L397.7 414.31 L401.0 417.73 L404.1 421.25 L407.1 424.85 L410.1 428.51 L412.9 432.23 L415.7 435.98 L418.4 439.76 L421.1 443.56 L423.8 447.35 L426.4 451.13 L429.0 454.88 L431.6 458.60 L434.1 462.26 L436.7 465.85 L439.3 469.37 L442.0 472.80 L444.6 476.12 L447.3 479.32 L450.0 482.40 L452.8 485.33 L455.7 488.12 L458.6 490.74 L461.5 493.20 L464.6 495.48 L467.7 497.58 L470.9 499.49 L474.2 501.20 L477.6 502.72 L481.2 504.03 L484.9 505.13 L488.8 506.01 L492.8 506.66 L497.1 507.06 L501.6 507.20 L501.6 526.90 L495.9 526.73 L490.4 526.22 L485.0 525.38 L479.9 524.22 L475.0 522.76 L470.2 521.02 L465.6 519.01 L461.3 516.75 L457.1 514.27 L453.1 511.59 L449.3 508.72 L445.6 505.69 L442.1 502.51 L438.7 499.21 L435.5 495.79 L432.3 492.28 L429.3 488.69 L426.4 485.03 L423.5 481.32 L420.7 477.57 L418.0 473.79 L415.3 470.00 L412.7 466.21 L410.0 462.43 L407.4 458.69 L404.8 454.98 L402.2 451.32 L399.7 447.73 L397.0 444.22 L394.4 440.80 L391.7 437.48 L389.0 434.28 L386.3 431.21 L383.5 428.28 L380.7 425.50 L377.8 422.88 L374.8 420.44 L371.8 418.16 L368.7 416.07 L365.5 414.17 L362.2 412.47 L358.7 410.96 L355.2 409.66 L351.5 408.57 L347.6 407.69 L343.6 407.06 L339.3 406.66 L334.8 406.53 Z" fill="rgb(221,195,123)" fill-opacity="0.85"/>
<path d="M334.8 406.53 L340.0 406.70 L344.9 407.18 L349.7 407.97 L354.2 409.06 L358.6 410.43 L362.8 412.06 L366.9 413.94 L370.7 416.06 L374.5 418.41 L378.1 420.96 L381.5 423.70 L384.9 426.62 L388.1 429.70 L391.2 432.94 L394.3 436.31 L397.2 439.81 L400.1 443.41 L402.9 447.11 L405.7 450.88 L408.4 454.73 L411.0 458.62 L413.7 462.56 L416.3 466.52 L418.9 470.50 L421.5 474.47 L424.1 478.42 L426.8 482.35 L429.4 486.23 L432.1 490.05 L434.8 493.80 L437.6 497.47 L440.5 501.04 L443.4 504.50 L446.4 507.83 L449.5 511.02 L452.7 514.05 L455.9 516.92 L459.3 519.61 L462.9 522.11 L466.5 524.40 L470.3 526.47 L474.2 528.31 L478.3 529.90 L482.6 531.23 L487.1 532.29 L491.7 533.06 L496.5 533.54 L501.6 533.70 L501.6 535.40 L496.4 535.23 L491.5 534.75 L486.7 533.95 L482.2 532.87 L477.8 531.50 L473.6 529.86 L469.5 527.98 L465.6 525.86 L461.9 523.52 L458.3 520.97 L454.9 518.22 L451.5 515.30 L448.3 512.22 L445.2 508.98 L442.1 505.61 L439.2 502.11 L436.3 498.51 L433.5 494.81 L430.7 491.03 L428.0 487.19 L425.4 483.29 L422.7 479.36 L420.1 475.39 L417.5 471.42 L414.9 467.45 L412.3 463.49 L409.6 459.57 L407.0 455.69 L404.3 451.86 L401.6 448.11 L398.8 444.44 L395.9 440.87 L393.0 437.41 L390.0 434.08 L386.9 430.89 L383.8 427.86 L380.5 424.99 L377.1 422.30 L373.6 419.80 L369.9 417.51 L366.1 415.44 L362.2 413.60 L358.1 412.01 L353.8 410.67 L349.3 409.61 L344.7 408.84 L339.9 408.36 L334.8 408.20 Z" fill="rgb(221,195,123)" fill-opacity="0.85"/>
<path d="M334.8 418.90 L338.7 418.79 L342.4 418.44 L345.9 417.86 L349.2 417.07 L352.3 416.08 L355.4 414.89 L358.3 413.51 L361.2 411.92 L364.0 410.13 L366.8 408.13 L369.6 405.93 L372.3 403.52 L375.0 400.92 L377.6 398.13 L380.3 395.15 L382.9 392.00 L385.5 388.69 L388.1 385.24 L390.6 381.65 L393.2 377.94 L395.8 374.13 L398.3 370.23 L400.9 366.26 L403.5 362.23 L406.2 358.14 L408.8 354.03 L411.6 349.90 L414.4 345.76 L417.2 341.64 L420.2 337.54 L423.2 333.48 L426.3 329.47 L429.6 325.53 L433.0 321.67 L436.6 317.92 L440.3 314.29 L444.2 310.81 L448.4 307.49 L452.7 304.36 L457.3 301.45 L462.0 298.80 L467.1 296.42 L472.3 294.36 L477.8 292.63 L483.4 291.27 L489.3 290.28 L495.4 289.69 L501.6 289.50 L501.6 323.50 L497.6 323.65 L493.9 324.04 L490.4 324.66 L487.0 325.49 L483.8 326.53 L480.8 327.77 L477.8 329.20 L474.9 330.84 L472.1 332.68 L469.3 334.72 L466.6 336.96 L463.8 339.41 L461.2 342.05 L458.5 344.88 L455.9 347.89 L453.3 351.06 L450.7 354.40 L448.2 357.88 L445.6 361.49 L443.1 365.22 L440.5 369.05 L438.0 372.97 L435.4 376.96 L432.9 381.01 L430.3 385.11 L427.6 389.25 L424.9 393.40 L422.2 397.55 L419.3 401.70 L416.4 405.82 L413.4 409.91 L410.3 413.95 L407.0 417.91 L403.6 421.80 L400.1 425.59 L396.4 429.25 L392.5 432.78 L388.3 436.14 L384.0 439.31 L379.4 442.26 L374.6 444.97 L369.6 447.39 L364.3 449.50 L358.8 451.28 L353.1 452.69 L347.2 453.72 L341.1 454.35 L334.8 454.58 Z" fill="rgb(90,121,151)" fill-opacity="0.86"/>
<path d="M334.8 454.58 L339.9 454.42 L344.8 453.96 L349.4 453.20 L353.9 452.16 L358.2 450.85 L362.4 449.29 L366.3 447.49 L370.2 445.46 L373.8 443.22 L377.4 440.78 L380.8 438.14 L384.1 435.34 L387.3 432.37 L390.4 429.25 L393.4 426.00 L396.3 422.62 L399.2 419.14 L402.0 415.56 L404.7 411.91 L407.4 408.18 L410.1 404.40 L412.7 400.58 L415.4 396.73 L418.0 392.86 L420.6 389.00 L423.2 385.15 L425.8 381.32 L428.5 377.54 L431.2 373.80 L433.9 370.14 L436.7 366.55 L439.6 363.06 L442.6 359.67 L445.6 356.40 L448.7 353.27 L451.9 350.29 L455.2 347.46 L458.7 344.81 L462.2 342.35 L465.9 340.09 L469.8 338.04 L473.8 336.23 L478.0 334.65 L482.3 333.34 L486.8 332.29 L491.6 331.53 L496.5 331.06 L501.6 330.90 L501.6 331.40 L496.5 331.56 L491.6 332.03 L486.9 332.79 L482.5 333.83 L478.1 335.14 L474.0 336.71 L470.0 338.51 L466.2 340.54 L462.5 342.79 L459.0 345.24 L455.6 347.88 L452.3 350.69 L449.1 353.66 L446.0 356.78 L443.0 360.03 L440.0 363.41 L437.2 366.89 L434.4 370.47 L431.6 374.13 L428.9 377.86 L426.3 381.64 L423.7 385.47 L421.0 389.32 L418.4 393.18 L415.8 397.05 L413.2 400.90 L410.6 404.73 L407.9 408.52 L405.2 412.25 L402.5 415.92 L399.7 419.51 L396.8 423.01 L393.9 426.40 L390.8 429.67 L387.7 432.80 L384.5 435.79 L381.2 438.62 L377.8 441.27 L374.2 443.74 L370.5 446.00 L366.6 448.05 L362.6 449.87 L358.4 451.45 L354.1 452.77 L349.6 453.82 L344.8 454.59 L339.9 455.06 L334.8 455.22 Z" fill="rgb(90,121,151)" fill-opacity="0.86"/>
<path d="M334.8 455.22 L339.7 455.08 L344.3 454.67 L348.8 453.99 L353.0 453.06 L357.1 451.89 L361.0 450.50 L364.8 448.89 L368.4 447.07 L371.9 445.06 L375.3 442.86 L378.5 440.48 L381.7 437.93 L384.8 435.23 L387.8 432.38 L390.7 429.40 L393.6 426.29 L396.4 423.08 L399.1 419.76 L401.8 416.36 L404.5 412.88 L407.1 409.34 L409.7 405.76 L412.3 402.13 L414.9 398.49 L417.6 394.83 L420.2 391.17 L422.9 387.53 L425.5 383.92 L428.3 380.35 L431.1 376.83 L433.9 373.37 L436.9 370.00 L439.9 366.72 L443.0 363.54 L446.2 360.49 L449.5 357.56 L453.0 354.79 L456.6 352.18 L460.3 349.75 L464.2 347.51 L468.3 345.48 L472.5 343.68 L476.9 342.11 L481.4 340.81 L486.2 339.77 L491.1 339.01 L496.3 338.55 L501.6 338.40 L501.6 346.20 L496.7 346.35 L492.1 346.77 L487.6 347.46 L483.4 348.40 L479.3 349.57 L475.3 350.98 L471.6 352.60 L467.9 354.43 L464.4 356.45 L461.1 358.66 L457.8 361.05 L454.6 363.60 L451.5 366.31 L448.5 369.17 L445.6 372.16 L442.8 375.27 L440.0 378.49 L437.3 381.81 L434.6 385.22 L431.9 388.71 L429.3 392.25 L426.7 395.84 L424.1 399.47 L421.5 403.12 L418.8 406.78 L416.2 410.44 L413.6 414.09 L410.9 417.70 L408.1 421.28 L405.4 424.81 L402.5 428.27 L399.6 431.65 L396.6 434.93 L393.5 438.12 L390.2 441.18 L386.9 444.11 L383.5 446.89 L379.9 449.51 L376.1 451.96 L372.2 454.20 L368.2 456.24 L364.0 458.06 L359.6 459.63 L355.0 460.95 L350.2 461.99 L345.3 462.76 L340.1 463.23 L334.8 463.39 Z" fill="rgb(90,121,151)" fill-opacity="0.86"/>
<path d="M334.8 463.39 L339.8 463.25 L344.6 462.84 L349.2 462.18 L353.6 461.27 L357.8 460.13 L361.8 458.77 L365.7 457.20 L369.5 455.43 L373.1 453.47 L376.5 451.33 L379.9 449.02 L383.1 446.56 L386.3 443.96 L389.3 441.21 L392.3 438.35 L395.2 435.37 L398.0 432.30 L400.8 429.13 L403.5 425.89 L406.2 422.58 L408.8 419.22 L411.5 415.82 L414.1 412.39 L416.7 408.95 L419.3 405.49 L421.9 402.05 L424.6 398.62 L427.2 395.23 L430.0 391.88 L432.7 388.58 L435.6 385.35 L438.5 382.20 L441.4 379.14 L444.5 376.19 L447.7 373.35 L450.9 370.65 L454.3 368.08 L457.8 365.67 L461.4 363.43 L465.2 361.37 L469.2 359.51 L473.3 357.85 L477.5 356.42 L482.0 355.22 L486.6 354.26 L491.4 353.57 L496.4 353.14 L501.6 353.00 L501.6 356.70 L496.6 356.84 L491.8 357.25 L487.2 357.92 L482.8 358.83 L478.6 359.97 L474.6 361.34 L470.7 362.92 L466.9 364.69 L463.3 366.66 L459.8 368.80 L456.5 371.11 L453.2 373.58 L450.1 376.19 L447.0 378.93 L444.1 381.80 L441.2 384.78 L438.4 387.86 L435.6 391.03 L432.9 394.27 L430.2 397.58 L427.5 400.94 L424.9 404.35 L422.3 407.78 L419.7 411.23 L417.1 414.68 L414.5 418.13 L411.8 421.55 L409.2 424.95 L406.4 428.31 L403.7 431.60 L400.9 434.84 L398.0 437.99 L395.0 441.05 L391.9 444.01 L388.8 446.85 L385.5 449.56 L382.1 452.13 L378.6 454.54 L375.0 456.79 L371.2 458.85 L367.3 460.72 L363.2 462.38 L358.9 463.82 L354.5 465.02 L349.8 465.98 L345.0 466.68 L340.0 467.11 L334.8 467.26 Z" fill="rgb(90,121,151)" fill-opacity="0.86"/>
<path d="M334.8 467.26 L339.7 467.13 L344.4 466.76 L348.9 466.14 L353.2 465.31 L357.3 464.25 L361.2 463.00 L365.0 461.55 L368.7 459.92 L372.2 458.11 L375.6 456.13 L378.8 454.00 L382.0 451.72 L385.1 449.30 L388.1 446.75 L391.0 444.09 L393.9 441.31 L396.7 438.43 L399.4 435.47 L402.1 432.43 L404.8 429.32 L407.4 426.16 L410.0 422.95 L412.6 419.71 L415.2 416.45 L417.9 413.18 L420.5 409.91 L423.1 406.66 L425.8 403.43 L428.6 400.23 L431.4 397.08 L434.2 393.99 L437.2 390.97 L440.2 388.04 L443.3 385.20 L446.5 382.47 L449.8 379.86 L453.3 377.38 L456.9 375.05 L460.6 372.89 L464.5 370.89 L468.5 369.09 L472.7 367.48 L477.0 366.10 L481.6 364.94 L486.3 364.01 L491.2 363.34 L496.3 362.94 L501.6 362.80 L501.6 370.20 L496.7 370.33 L492.0 370.72 L487.5 371.34 L483.2 372.18 L479.1 373.24 L475.1 374.51 L471.3 375.96 L467.7 377.61 L464.2 379.43 L460.8 381.41 L457.5 383.55 L454.3 385.84 L451.2 388.26 L448.3 390.82 L445.3 393.49 L442.5 396.28 L439.7 399.16 L437.0 402.13 L434.3 405.17 L431.6 408.28 L429.0 411.45 L426.4 414.66 L423.8 417.91 L421.2 421.17 L418.6 424.45 L415.9 427.72 L413.3 430.98 L410.6 434.22 L407.8 437.42 L405.1 440.57 L402.2 443.67 L399.3 446.69 L396.3 449.63 L393.2 452.48 L389.9 455.22 L386.6 457.83 L383.2 460.32 L379.6 462.66 L375.9 464.83 L372.0 466.83 L368.0 468.65 L363.8 470.26 L359.4 471.66 L354.9 472.83 L350.1 473.76 L345.2 474.43 L340.1 474.85 L334.8 474.99 Z" fill="rgb(90,121,151)" fill-opacity="0.86"/>
<path d="M334.8 474.99 L338.9 474.90 L342.7 474.62 L346.4 474.16 L349.8 473.53 L353.1 472.76 L356.2 471.84 L359.1 470.77 L362.0 469.57 L364.8 468.24 L367.5 466.76 L370.1 465.16 L372.7 463.41 L375.3 461.53 L377.8 459.51 L380.3 457.36 L382.8 455.08 L385.3 452.67 L387.8 450.15 L390.3 447.52 L392.8 444.78 L395.3 441.96 L397.8 439.05 L400.4 436.06 L403.0 433.02 L405.6 429.92 L408.3 426.78 L411.0 423.61 L413.9 420.42 L416.8 417.23 L419.8 414.04 L422.9 410.87 L426.2 407.74 L429.5 404.65 L433.1 401.63 L436.7 398.68 L440.6 395.84 L444.6 393.12 L448.8 390.55 L453.3 388.13 L457.9 385.90 L462.7 383.88 L467.7 382.08 L472.9 380.53 L478.3 379.24 L483.8 378.22 L489.6 377.48 L495.5 377.04 L501.6 376.90 L501.6 416.40 L497.5 416.51 L493.6 416.81 L490.0 417.30 L486.5 417.94 L483.2 418.74 L480.1 419.69 L477.1 420.77 L474.3 422.00 L471.5 423.36 L468.8 424.85 L466.2 426.48 L463.6 428.25 L461.0 430.16 L458.5 432.19 L456.0 434.36 L453.5 436.66 L451.0 439.08 L448.5 441.62 L446.1 444.27 L443.6 447.01 L441.1 449.85 L438.6 452.77 L436.0 455.77 L433.4 458.83 L430.8 461.94 L428.1 465.09 L425.4 468.27 L422.6 471.47 L419.7 474.68 L416.7 477.88 L413.6 481.07 L410.4 484.22 L407.0 487.32 L403.5 490.36 L399.8 493.33 L395.9 496.19 L391.9 498.93 L387.7 501.53 L383.3 503.97 L378.6 506.22 L373.8 508.27 L368.8 510.09 L363.6 511.66 L358.2 512.98 L352.6 514.02 L346.9 514.77 L340.9 515.24 L334.8 515.40 Z" fill="rgb(90,121,151)" fill-opacity="0.86"/>
<path d="M334.8 515.40 L339.5 515.30 L343.9 514.99 L348.2 514.49 L352.2 513.80 L356.1 512.94 L359.8 511.91 L363.3 510.73 L366.7 509.40 L370.0 507.92 L373.2 506.30 L376.3 504.55 L379.3 502.68 L382.2 500.68 L385.0 498.57 L387.8 496.35 L390.6 494.03 L393.3 491.61 L395.9 489.10 L398.5 486.51 L401.1 483.86 L403.7 481.14 L406.3 478.37 L408.9 475.55 L411.5 472.71 L414.1 469.84 L416.8 466.96 L419.5 464.07 L422.2 461.19 L425.0 458.33 L427.9 455.50 L430.9 452.71 L433.9 449.98 L437.0 447.31 L440.3 444.71 L443.7 442.21 L447.2 439.81 L450.8 437.53 L454.6 435.38 L458.5 433.37 L462.6 431.53 L466.9 429.86 L471.3 428.38 L475.9 427.11 L480.7 426.04 L485.6 425.20 L490.8 424.59 L496.1 424.22 L501.6 424.10 L501.6 441.80 L496.9 441.92 L492.4 442.24 L488.2 442.76 L484.1 443.47 L480.2 444.35 L476.5 445.39 L473.0 446.60 L469.5 447.95 L466.3 449.45 L463.1 451.09 L460.0 452.85 L457.0 454.75 L454.1 456.76 L451.3 458.89 L448.5 461.13 L445.8 463.46 L443.1 465.90 L440.4 468.42 L437.8 471.02 L435.2 473.69 L432.6 476.42 L430.1 479.20 L427.5 482.02 L424.9 484.88 L422.3 487.76 L419.6 490.66 L417.0 493.55 L414.2 496.44 L411.4 499.31 L408.6 502.16 L405.6 504.96 L402.6 507.71 L399.5 510.40 L396.2 513.01 L392.9 515.53 L389.4 517.95 L385.7 520.25 L381.9 522.41 L378.0 524.44 L373.9 526.30 L369.6 527.99 L365.2 529.49 L360.6 530.78 L355.8 531.87 L350.8 532.73 L345.7 533.36 L340.3 533.74 L334.8 533.88 Z" fill="rgb(90,121,151)" fill-opacity="0.86"/>
<path d="M334.8 533.88 L339.9 533.78 L344.7 533.46 L349.4 532.95 L353.9 532.25 L358.1 531.36 L362.3 530.31 L366.2 529.09 L370.0 527.71 L373.7 526.19 L377.2 524.54 L380.6 522.75 L383.9 520.85 L387.1 518.84 L390.2 516.72 L393.2 514.51 L396.1 512.22 L398.9 509.86 L401.7 507.42 L404.5 504.94 L407.1 502.40 L409.8 499.83 L412.4 497.22 L415.1 494.60 L417.7 491.96 L420.3 489.33 L422.9 486.70 L425.5 484.09 L428.2 481.50 L430.9 478.95 L433.7 476.44 L436.5 473.99 L439.4 471.60 L442.3 469.28 L445.4 467.04 L448.5 464.90 L451.7 462.85 L455.1 460.92 L458.5 459.10 L462.1 457.42 L465.8 455.87 L469.7 454.47 L473.7 453.23 L477.9 452.15 L482.3 451.26 L486.8 450.54 L491.5 450.02 L496.5 449.70 L501.6 449.60 L501.6 450.90 L496.5 451.01 L491.7 451.33 L487.0 451.86 L482.5 452.57 L478.2 453.46 L474.1 454.53 L470.1 455.76 L466.3 457.15 L462.7 458.68 L459.1 460.34 L455.7 462.14 L452.4 464.05 L449.3 466.07 L446.2 468.20 L443.2 470.41 L440.3 472.71 L437.4 475.09 L434.6 477.53 L431.9 480.02 L429.2 482.56 L426.6 485.14 L424.0 487.75 L421.3 490.38 L418.7 493.03 L416.1 495.67 L413.5 498.30 L410.9 500.92 L408.2 503.52 L405.5 506.07 L402.8 508.59 L399.9 511.05 L397.1 513.45 L394.1 515.78 L391.1 518.02 L388.0 520.17 L384.7 522.23 L381.4 524.17 L377.9 526.00 L374.3 527.69 L370.6 529.25 L366.7 530.66 L362.7 531.91 L358.5 533.00 L354.2 533.91 L349.6 534.63 L344.9 535.16 L339.9 535.49 L334.8 535.60 Z" fill="rgb(90,121,151)" fill-opacity="0.86"/>
<path d="M503.4 457.70 L508.5 457.68 L513.4 457.63 L518.1 457.55 L522.6 457.44 L526.9 457.30 L531.1 457.13 L535.1 456.94 L538.9 456.72 L542.6 456.48 L546.1 456.22 L549.6 455.94 L552.9 455.64 L556.1 455.32 L559.2 454.99 L562.2 454.64 L565.1 454.28 L568.0 453.91 L570.8 453.53 L573.5 453.14 L576.2 452.74 L578.9 452.33 L581.5 451.93 L584.1 451.52 L586.7 451.10 L589.3 450.69 L591.9 450.28 L594.6 449.87 L597.2 449.47 L599.9 449.07 L602.7 448.68 L605.5 448.30 L608.3 447.92 L611.3 447.56 L614.3 447.21 L617.4 446.88 L620.6 446.56 L623.9 446.26 L627.3 445.98 L630.9 445.72 L634.6 445.48 L638.4 445.26 L642.4 445.07 L646.6 444.90 L650.9 444.76 L655.4 444.65 L660.1 444.57 L665.0 444.52 L670.1 444.50 L670.1 444.92 L665.0 444.93 L660.1 444.98 L655.4 445.07 L650.9 445.18 L646.6 445.32 L642.4 445.49 L638.4 445.68 L634.6 445.90 L630.9 446.14 L627.4 446.40 L623.9 446.68 L620.6 446.99 L617.4 447.30 L614.3 447.64 L611.3 447.99 L608.4 448.35 L605.5 448.72 L602.7 449.10 L600.0 449.49 L597.3 449.89 L594.6 450.30 L592.0 450.71 L589.4 451.12 L586.8 451.53 L584.2 451.94 L581.6 452.36 L578.9 452.76 L576.3 453.17 L573.6 453.57 L570.8 453.96 L568.0 454.34 L565.2 454.72 L562.2 455.08 L559.2 455.43 L556.1 455.76 L552.9 456.08 L549.6 456.38 L546.2 456.66 L542.6 456.93 L538.9 457.17 L535.1 457.39 L531.1 457.58 L526.9 457.75 L522.6 457.89 L518.1 458.00 L513.4 458.08 L508.5 458.13 L503.4 458.15 Z" fill="rgb(221,195,123)" fill-opacity="0.85"/>
<path d="M503.4 458.15 L508.5 458.21 L513.4 458.38 L518.1 458.65 L522.6 459.03 L526.9 459.50 L531.1 460.06 L535.1 460.71 L538.9 461.45 L542.6 462.26 L546.2 463.14 L549.6 464.09 L553.0 465.11 L556.2 466.18 L559.3 467.30 L562.3 468.48 L565.2 469.69 L568.1 470.95 L570.9 472.24 L573.6 473.55 L576.3 474.89 L579.0 476.25 L581.6 477.63 L584.2 479.01 L586.9 480.40 L589.5 481.79 L592.1 483.17 L594.7 484.55 L597.4 485.90 L600.1 487.24 L602.8 488.56 L605.6 489.84 L608.4 491.09 L611.4 492.31 L614.4 493.48 L617.5 494.60 L620.7 495.66 L624.0 496.68 L627.4 497.62 L631.0 498.50 L634.6 499.31 L638.5 500.04 L642.5 500.69 L646.6 501.25 L650.9 501.73 L655.4 502.10 L660.1 502.37 L665.0 502.54 L670.1 502.60 L670.1 503.04 L665.0 502.98 L660.1 502.81 L655.4 502.54 L650.9 502.16 L646.6 501.69 L642.4 501.13 L638.4 500.48 L634.6 499.74 L630.9 498.93 L627.3 498.05 L623.9 497.10 L620.5 496.09 L617.3 495.01 L614.2 493.89 L611.2 492.72 L608.3 491.50 L605.4 490.25 L602.6 488.96 L599.9 487.64 L597.2 486.30 L594.5 484.94 L591.9 483.57 L589.3 482.18 L586.6 480.79 L584.0 479.41 L581.4 478.02 L578.8 476.65 L576.1 475.29 L573.4 473.95 L570.7 472.64 L567.9 471.35 L565.1 470.10 L562.1 468.89 L559.1 467.72 L556.0 466.60 L552.8 465.53 L549.5 464.52 L546.1 463.57 L542.5 462.69 L538.9 461.89 L535.0 461.16 L531.0 460.51 L526.9 459.94 L522.6 459.47 L518.1 459.10 L513.4 458.82 L508.5 458.66 L503.4 458.60 Z" fill="rgb(221,195,123)" fill-opacity="0.85"/>
<path d="M503.4 465.40 L508.4 465.37 L513.2 465.29 L517.8 465.17 L522.3 465.00 L526.5 464.78 L530.6 464.53 L534.4 464.24 L538.2 463.91 L541.8 463.54 L545.2 463.15 L548.6 462.72 L551.8 462.27 L554.9 461.79 L557.9 461.29 L560.8 460.77 L563.7 460.22 L566.5 459.66 L569.2 459.09 L571.9 458.49 L574.5 457.89 L577.1 457.27 L579.7 456.65 L582.3 456.02 L584.9 455.38 L587.5 454.74 L590.2 454.10 L592.8 453.46 L595.5 452.82 L598.3 452.20 L601.1 451.58 L603.9 450.97 L606.9 450.38 L609.9 449.80 L613.0 449.25 L616.2 448.72 L619.5 448.21 L622.9 447.73 L626.4 447.28 L630.1 446.86 L633.9 446.48 L637.8 446.13 L641.9 445.82 L646.1 445.56 L650.6 445.33 L655.2 445.16 L659.9 445.03 L664.9 444.95 L670.1 444.92 L670.1 460.35 L665.1 460.38 L660.3 460.45 L655.7 460.57 L651.2 460.74 L647.0 460.95 L643.0 461.20 L639.1 461.49 L635.3 461.81 L631.7 462.17 L628.3 462.56 L624.9 462.98 L621.7 463.43 L618.6 463.91 L615.6 464.40 L612.7 464.92 L609.8 465.46 L607.1 466.02 L604.3 466.59 L601.6 467.18 L599.0 467.78 L596.4 468.39 L593.8 469.01 L591.2 469.64 L588.6 470.27 L586.0 470.91 L583.3 471.55 L580.7 472.18 L578.0 472.81 L575.2 473.44 L572.4 474.05 L569.5 474.65 L566.6 475.24 L563.6 475.81 L560.5 476.36 L557.3 476.89 L554.0 477.39 L550.6 477.87 L547.1 478.32 L543.4 478.73 L539.6 479.11 L535.7 479.45 L531.6 479.75 L527.3 480.02 L522.9 480.24 L518.3 480.41 L513.6 480.53 L508.6 480.61 L503.4 480.64 Z" fill="rgb(221,195,123)" fill-opacity="0.85"/>
<path d="M503.4 480.64 L508.6 480.65 L513.6 480.73 L518.5 480.86 L523.1 481.05 L527.6 481.28 L531.8 481.57 L536.0 481.91 L540.0 482.29 L543.8 482.71 L547.5 483.17 L551.1 483.67 L554.5 484.21 L557.9 484.77 L561.1 485.37 L564.3 485.99 L567.3 486.63 L570.3 487.30 L573.2 487.97 L576.0 488.67 L578.8 489.37 L581.5 490.08 L584.2 490.79 L586.9 491.50 L589.5 492.21 L592.1 492.91 L594.7 493.61 L597.3 494.30 L599.9 494.98 L602.5 495.64 L605.2 496.29 L607.8 496.92 L610.6 497.53 L613.4 498.12 L616.3 498.68 L619.3 499.23 L622.3 499.74 L625.5 500.23 L628.8 500.69 L632.2 501.11 L635.7 501.50 L639.4 501.85 L643.2 502.16 L647.2 502.43 L651.4 502.66 L655.8 502.83 L660.4 502.95 L665.1 503.03 L670.1 503.04 L670.1 524.16 L664.9 524.12 L659.9 524.01 L655.0 523.85 L650.4 523.64 L645.9 523.37 L641.6 523.05 L637.5 522.69 L633.5 522.28 L629.7 521.83 L625.9 521.34 L622.4 520.81 L618.9 520.24 L615.6 519.65 L612.3 519.03 L609.2 518.38 L606.1 517.71 L603.2 517.01 L600.3 516.31 L597.4 515.59 L594.7 514.86 L591.9 514.12 L589.3 513.39 L586.6 512.65 L584.0 511.91 L581.4 511.18 L578.8 510.45 L576.3 509.74 L573.7 509.03 L571.0 508.34 L568.4 507.67 L565.7 507.01 L563.0 506.37 L560.1 505.75 L557.3 505.16 L554.3 504.59 L551.2 504.04 L548.1 503.52 L544.8 503.04 L541.4 502.58 L537.8 502.17 L534.2 501.79 L530.3 501.45 L526.3 501.15 L522.1 500.90 L517.7 500.69 L513.2 500.54 L508.4 500.44 L503.4 500.40 Z" fill="rgb(221,195,123)" fill-opacity="0.85"/>
<path d="M503.4 507.20 L508.4 507.14 L513.1 506.97 L517.7 506.68 L522.1 506.30 L526.2 505.82 L530.2 505.24 L534.1 504.58 L537.8 503.84 L541.3 503.02 L544.7 502.13 L548.0 501.17 L551.2 500.15 L554.2 499.07 L557.2 497.94 L560.1 496.75 L562.9 495.52 L565.7 494.24 L568.4 492.93 L571.1 491.58 L573.7 490.20 L576.3 488.80 L578.9 487.37 L581.5 485.92 L584.1 484.46 L586.7 483.00 L589.4 481.53 L592.0 480.06 L594.7 478.61 L597.5 477.16 L600.3 475.74 L603.2 474.34 L606.2 472.98 L609.2 471.65 L612.3 470.37 L615.6 469.14 L618.9 467.96 L622.3 466.85 L625.9 465.81 L629.6 464.84 L633.5 463.95 L637.4 463.15 L641.6 462.44 L645.9 461.82 L650.4 461.31 L655.0 460.90 L659.8 460.60 L664.9 460.42 L670.1 460.35 L670.1 471.20 L665.1 471.26 L660.4 471.43 L655.8 471.70 L651.4 472.09 L647.3 472.56 L643.3 473.13 L639.4 473.79 L635.7 474.53 L632.2 475.34 L628.8 476.23 L625.5 477.18 L622.3 478.20 L619.3 479.28 L616.3 480.41 L613.4 481.59 L610.6 482.82 L607.8 484.09 L605.1 485.40 L602.4 486.75 L599.8 488.12 L597.2 489.53 L594.6 490.95 L592.0 492.39 L589.4 493.85 L586.8 495.31 L584.1 496.78 L581.5 498.24 L578.8 499.69 L576.0 501.13 L573.2 502.55 L570.3 503.95 L567.3 505.31 L564.3 506.63 L561.2 507.91 L557.9 509.14 L554.6 510.31 L551.1 511.41 L547.6 512.45 L543.9 513.42 L540.0 514.30 L536.0 515.10 L531.9 515.81 L527.6 516.42 L523.1 516.93 L518.5 517.34 L513.7 517.63 L508.6 517.81 L503.4 517.87 Z" fill="rgb(221,195,123)" fill-opacity="0.85"/>
<path d="M503.4 517.87 L508.5 517.87 L513.4 517.89 L518.1 517.93 L522.7 517.97 L527.0 518.04 L531.2 518.12 L535.2 518.21 L539.0 518.31 L542.8 518.42 L546.3 518.55 L549.8 518.68 L553.1 518.83 L556.3 518.98 L559.5 519.14 L562.5 519.31 L565.4 519.49 L568.3 519.67 L571.1 519.85 L573.9 520.04 L576.6 520.24 L579.3 520.43 L581.9 520.63 L584.5 520.83 L587.1 521.03 L589.7 521.23 L592.3 521.43 L595.0 521.63 L597.6 521.82 L600.3 522.01 L603.0 522.20 L605.8 522.38 L608.7 522.56 L611.6 522.74 L614.6 522.90 L617.7 523.06 L620.8 523.21 L624.1 523.36 L627.5 523.49 L631.1 523.61 L634.7 523.73 L638.6 523.83 L642.5 523.92 L646.7 523.99 L651.0 524.06 L655.5 524.11 L660.1 524.14 L665.0 524.16 L670.1 524.16 L670.1 533.84 L665.0 533.82 L660.1 533.79 L655.4 533.75 L650.8 533.68 L646.5 533.60 L642.3 533.51 L638.3 533.41 L634.5 533.29 L630.7 533.17 L627.2 533.03 L623.7 532.88 L620.4 532.72 L617.2 532.55 L614.0 532.38 L611.0 532.20 L608.1 532.01 L605.2 531.81 L602.4 531.61 L599.6 531.41 L596.9 531.20 L594.2 530.99 L591.6 530.78 L589.0 530.57 L586.4 530.36 L583.8 530.14 L581.2 529.93 L578.5 529.72 L575.9 529.51 L573.2 529.31 L570.5 529.10 L567.7 528.91 L564.8 528.71 L561.9 528.53 L558.9 528.35 L555.9 528.17 L552.7 528.01 L549.4 527.85 L546.0 527.71 L542.4 527.57 L538.8 527.44 L534.9 527.33 L531.0 527.22 L526.8 527.13 L522.5 527.06 L518.0 526.99 L513.4 526.95 L508.5 526.92 L503.4 526.90 Z" fill="rgb(221,195,123)" fill-opacity="0.85"/>
<path d="M503.4 533.70 L508.5 533.70 L513.4 533.70 L518.1 533.70 L522.6 533.70 L526.9 533.70 L531.1 533.70 L535.1 533.71 L538.9 533.71 L542.6 533.71 L546.1 533.71 L549.6 533.72 L552.9 533.72 L556.1 533.72 L559.2 533.73 L562.2 533.73 L565.1 533.73 L568.0 533.74 L570.8 533.74 L573.5 533.75 L576.2 533.75 L578.9 533.76 L581.5 533.76 L584.1 533.77 L586.8 533.77 L589.4 533.77 L592.0 533.78 L594.6 533.78 L597.3 533.79 L600.0 533.79 L602.7 533.80 L605.5 533.80 L608.4 533.81 L611.3 533.81 L614.3 533.81 L617.4 533.82 L620.6 533.82 L623.9 533.82 L627.4 533.83 L630.9 533.83 L634.6 533.83 L638.4 533.83 L642.4 533.84 L646.6 533.84 L650.9 533.84 L655.4 533.84 L660.1 533.84 L665.0 533.84 L670.1 533.84 L670.1 535.60 L665.0 535.60 L660.1 535.60 L655.4 535.60 L650.9 535.59 L646.6 535.59 L642.4 535.59 L638.4 535.59 L634.6 535.58 L630.9 535.58 L627.4 535.57 L623.9 535.57 L620.6 535.57 L617.4 535.56 L614.3 535.56 L611.3 535.55 L608.4 535.55 L605.5 535.54 L602.7 535.53 L600.0 535.53 L597.3 535.52 L594.6 535.52 L592.0 535.51 L589.4 535.51 L586.7 535.50 L584.1 535.49 L581.5 535.49 L578.9 535.48 L576.2 535.48 L573.5 535.47 L570.8 535.47 L568.0 535.46 L565.1 535.45 L562.2 535.45 L559.2 535.44 L556.1 535.44 L552.9 535.43 L549.6 535.43 L546.1 535.43 L542.6 535.42 L538.9 535.42 L535.1 535.41 L531.1 535.41 L526.9 535.41 L522.6 535.41 L518.1 535.40 L513.4 535.40 L508.5 535.40 L503.4 535.40 Z" fill="rgb(221,195,123)" fill-opacity="0.85"/>
<path d="M503.4 289.50 L509.0 289.58 L514.5 289.84 L519.7 290.28 L524.8 290.89 L529.8 291.67 L534.5 292.60 L539.1 293.68 L543.5 294.91 L547.8 296.28 L551.9 297.76 L555.9 299.36 L559.7 301.07 L563.4 302.86 L567.0 304.73 L570.4 306.67 L573.7 308.67 L576.9 310.70 L580.0 312.77 L583.0 314.86 L585.9 316.96 L588.7 319.05 L591.4 321.14 L594.1 323.21 L596.8 325.25 L599.4 327.26 L601.9 329.23 L604.5 331.15 L607.0 333.02 L609.5 334.83 L612.0 336.58 L614.5 338.27 L617.0 339.88 L619.6 341.43 L622.2 342.90 L624.9 344.30 L627.6 345.61 L630.4 346.85 L633.3 348.01 L636.2 349.08 L639.3 350.07 L642.6 350.96 L645.9 351.75 L649.5 352.44 L653.2 353.03 L657.1 353.49 L661.2 353.83 L665.5 354.04 L670.1 354.10 L670.1 387.20 L664.4 387.10 L659.0 386.81 L653.7 386.35 L648.6 385.71 L643.7 384.91 L638.9 383.95 L634.3 382.84 L629.9 381.58 L625.6 380.19 L621.4 378.68 L617.5 377.05 L613.6 375.32 L610.0 373.50 L606.4 371.61 L603.0 369.64 L599.7 367.62 L596.5 365.57 L593.4 363.48 L590.5 361.37 L587.6 359.25 L584.8 357.13 L582.0 355.03 L579.4 352.94 L576.7 350.88 L574.2 348.85 L571.6 346.86 L569.1 344.92 L566.6 343.03 L564.1 341.20 L561.6 339.43 L559.1 337.72 L556.6 336.08 L554.0 334.51 L551.4 333.02 L548.8 331.60 L546.0 330.25 L543.2 328.99 L540.4 327.81 L537.4 326.71 L534.3 325.69 L531.0 324.78 L527.6 323.95 L524.1 323.23 L520.4 322.63 L516.4 322.13 L512.3 321.77 L508.0 321.54 L503.4 321.45 Z" fill="rgb(90,121,151)" fill-opacity="0.86"/>
<path d="M503.4 321.45 L508.6 321.66 L513.6 322.26 L518.3 323.24 L522.9 324.59 L527.3 326.28 L531.6 328.30 L535.6 330.63 L539.5 333.25 L543.2 336.15 L546.9 339.30 L550.3 342.68 L553.7 346.29 L556.9 350.09 L560.0 354.09 L563.1 358.24 L566.0 362.55 L568.9 366.99 L571.7 371.55 L574.4 376.21 L577.1 380.94 L579.8 385.75 L582.4 390.60 L585.1 395.48 L587.7 400.38 L590.3 405.28 L592.9 410.15 L595.5 414.99 L598.2 419.78 L600.9 424.49 L603.6 429.12 L606.4 433.64 L609.2 438.04 L612.2 442.30 L615.1 446.40 L618.2 450.33 L621.4 454.07 L624.7 457.60 L628.1 460.91 L631.6 463.98 L635.2 466.79 L639.0 469.34 L642.9 471.59 L647.0 473.54 L651.2 475.18 L655.7 476.47 L660.3 477.42 L665.1 478.00 L670.1 478.20 L670.1 480.34 L664.9 480.13 L659.9 479.53 L655.1 478.54 L650.6 477.19 L646.2 475.50 L641.9 473.47 L637.9 471.14 L634.0 468.52 L630.2 465.62 L626.6 462.47 L623.2 459.08 L619.8 455.47 L616.6 451.66 L613.5 447.67 L610.4 443.51 L607.5 439.20 L604.6 434.76 L601.8 430.20 L599.1 425.55 L596.3 420.81 L593.7 416.00 L591.0 411.15 L588.4 406.26 L585.8 401.36 L583.2 396.47 L580.6 391.59 L578.0 386.75 L575.3 381.97 L572.6 377.25 L569.9 372.62 L567.1 368.10 L564.3 363.70 L561.4 359.44 L558.4 355.34 L555.3 351.40 L552.1 347.66 L548.8 344.13 L545.4 340.81 L541.9 337.74 L538.3 334.93 L534.5 332.38 L530.6 330.12 L526.5 328.17 L522.3 326.53 L517.8 325.23 L513.2 324.28 L508.4 323.70 L503.4 323.50 Z" fill="rgb(90,121,151)" fill-opacity="0.86"/>
<path d="M503.4 330.90 L508.5 330.97 L513.4 331.19 L518.1 331.54 L522.6 332.01 L527.0 332.61 L531.1 333.33 L535.1 334.15 L539.0 335.08 L542.7 336.11 L546.2 337.23 L549.7 338.43 L553.0 339.72 L556.2 341.08 L559.3 342.50 L562.3 343.99 L565.3 345.53 L568.1 347.12 L570.9 348.75 L573.7 350.42 L576.4 352.12 L579.0 353.84 L581.7 355.58 L584.3 357.33 L586.9 359.09 L589.5 360.85 L592.1 362.60 L594.7 364.34 L597.4 366.06 L600.1 367.75 L602.8 369.42 L605.6 371.05 L608.5 372.63 L611.4 374.17 L614.4 375.65 L617.5 377.07 L620.7 378.42 L624.0 379.70 L627.4 380.90 L631.0 382.01 L634.7 383.04 L638.5 383.96 L642.5 384.79 L646.6 385.50 L650.9 386.10 L655.4 386.57 L660.1 386.92 L665.0 387.13 L670.1 387.20 L670.1 387.63 L665.0 387.56 L660.1 387.34 L655.4 387.00 L650.9 386.52 L646.5 385.93 L642.4 385.21 L638.4 384.39 L634.5 383.46 L630.8 382.43 L627.3 381.32 L623.8 380.11 L620.5 378.83 L617.3 377.47 L614.2 376.05 L611.2 374.57 L608.3 373.03 L605.4 371.44 L602.6 369.81 L599.8 368.14 L597.1 366.44 L594.5 364.72 L591.8 362.98 L589.2 361.23 L586.6 359.47 L584.0 357.72 L581.4 355.97 L578.8 354.23 L576.1 352.51 L573.4 350.82 L570.7 349.16 L567.9 347.53 L565.0 345.95 L562.1 344.41 L559.1 342.93 L556.0 341.52 L552.8 340.16 L549.5 338.89 L546.1 337.69 L542.5 336.58 L538.8 335.55 L535.0 334.63 L531.0 333.81 L526.9 333.10 L522.6 332.50 L518.1 332.03 L513.4 331.68 L508.5 331.47 L503.4 331.40 Z" fill="rgb(90,121,151)" fill-opacity="0.86"/>
<path d="M503.4 338.40 L508.6 338.46 L513.6 338.65 L518.3 338.96 L522.9 339.38 L527.3 339.91 L531.6 340.55 L535.7 341.28 L539.6 342.11 L543.4 343.03 L547.0 344.03 L550.5 345.11 L553.9 346.26 L557.2 347.48 L560.4 348.75 L563.5 350.08 L566.5 351.45 L569.4 352.87 L572.2 354.32 L575.0 355.81 L577.8 357.31 L580.4 358.83 L583.1 360.37 L585.7 361.91 L588.3 363.45 L590.9 364.99 L593.6 366.51 L596.2 368.02 L598.8 369.52 L601.5 370.98 L604.2 372.42 L606.9 373.82 L609.7 375.18 L612.6 376.49 L615.5 377.76 L618.5 378.97 L621.7 380.13 L624.9 381.22 L628.2 382.25 L631.7 383.20 L635.3 384.07 L639.0 384.86 L642.9 385.56 L647.0 386.17 L651.2 386.68 L655.7 387.09 L660.3 387.39 L665.1 387.57 L670.1 387.63 L670.1 393.99 L664.9 393.93 L659.9 393.74 L655.2 393.42 L650.6 393.00 L646.2 392.46 L641.9 391.82 L637.8 391.08 L633.9 390.24 L630.1 389.32 L626.5 388.32 L623.0 387.23 L619.6 386.08 L616.3 384.86 L613.1 383.58 L610.0 382.25 L607.0 380.87 L604.1 379.45 L601.2 377.99 L598.5 376.50 L595.7 374.99 L593.0 373.47 L590.4 371.93 L587.8 370.38 L585.2 368.84 L582.6 367.30 L580.0 365.77 L577.3 364.25 L574.7 362.76 L572.1 361.29 L569.4 359.85 L566.6 358.45 L563.8 357.08 L560.9 355.76 L558.0 354.49 L555.0 353.27 L551.8 352.11 L548.6 351.02 L545.3 349.99 L541.8 349.03 L538.2 348.15 L534.5 347.36 L530.6 346.65 L526.5 346.04 L522.3 345.52 L517.9 345.11 L513.2 344.81 L508.4 344.62 L503.4 344.56 Z" fill="rgb(90,121,151)" fill-opacity="0.86"/>
<path d="M503.4 344.56 L508.6 344.73 L513.5 345.25 L518.3 346.10 L522.8 347.26 L527.2 348.72 L531.4 350.46 L535.5 352.48 L539.3 354.74 L543.1 357.24 L546.7 359.96 L550.1 362.89 L553.5 366.01 L556.7 369.30 L559.8 372.75 L562.9 376.35 L565.8 380.08 L568.7 383.93 L571.5 387.88 L574.2 391.91 L576.9 396.01 L579.6 400.17 L582.2 404.38 L584.9 408.61 L587.5 412.85 L590.1 417.09 L592.7 421.31 L595.3 425.50 L598.0 429.65 L600.7 433.73 L603.4 437.74 L606.2 441.66 L609.0 445.47 L611.9 449.16 L614.9 452.72 L618.0 456.13 L621.2 459.37 L624.5 462.43 L627.9 465.31 L631.4 467.97 L635.1 470.42 L638.8 472.62 L642.8 474.59 L646.9 476.28 L651.1 477.71 L655.6 478.84 L660.2 479.66 L665.1 480.17 L670.1 480.34 L670.1 482.05 L664.9 481.88 L660.0 481.36 L655.2 480.51 L650.7 479.34 L646.3 477.88 L642.1 476.14 L638.0 474.12 L634.1 471.86 L630.4 469.35 L626.8 466.63 L623.4 463.70 L620.0 460.58 L616.8 457.29 L613.7 453.83 L610.6 450.23 L607.7 446.50 L604.8 442.65 L602.0 438.70 L599.3 434.67 L596.6 430.57 L593.9 426.40 L591.3 422.20 L588.6 417.97 L586.0 413.73 L583.4 409.49 L580.8 405.26 L578.2 401.07 L575.5 396.92 L572.8 392.84 L570.1 388.83 L567.3 384.91 L564.5 381.10 L561.6 377.41 L558.6 373.85 L555.5 370.44 L552.3 367.19 L549.0 364.13 L545.6 361.25 L542.1 358.59 L538.5 356.14 L534.7 353.93 L530.7 351.97 L526.6 350.27 L522.4 348.84 L517.9 347.71 L513.3 346.88 L508.4 346.37 L503.4 346.20 Z" fill="rgb(90,121,151)" fill-opacity="0.86"/>
<path d="M503.4 353.00 L508.5 353.05 L513.4 353.21 L518.2 353.46 L522.7 353.81 L527.0 354.25 L531.2 354.77 L535.2 355.37 L539.1 356.05 L542.8 356.80 L546.4 357.62 L549.8 358.50 L553.2 359.44 L556.4 360.44 L559.5 361.48 L562.6 362.57 L565.5 363.70 L568.4 364.86 L571.2 366.06 L574.0 367.28 L576.7 368.52 L579.3 369.77 L582.0 371.05 L584.6 372.32 L587.2 373.60 L589.8 374.88 L592.4 376.16 L595.1 377.42 L597.7 378.67 L600.4 379.90 L603.1 381.11 L605.9 382.29 L608.7 383.44 L611.7 384.55 L614.6 385.63 L617.7 386.66 L620.9 387.64 L624.2 388.56 L627.6 389.43 L631.1 390.24 L634.8 390.98 L638.6 391.65 L642.6 392.25 L646.7 392.76 L651.0 393.19 L655.5 393.54 L660.1 393.79 L665.0 393.94 L670.1 393.99 L670.1 396.12 L665.0 396.06 L660.1 395.91 L655.3 395.65 L650.8 395.30 L646.5 394.86 L642.3 394.34 L638.3 393.74 L634.4 393.05 L630.7 392.30 L627.1 391.48 L623.6 390.60 L620.3 389.65 L617.1 388.66 L614.0 387.61 L610.9 386.53 L608.0 385.40 L605.1 384.23 L602.3 383.04 L599.5 381.81 L596.8 380.57 L594.2 379.31 L591.5 378.04 L588.9 376.76 L586.3 375.48 L583.7 374.20 L581.1 372.92 L578.4 371.66 L575.8 370.41 L573.1 369.17 L570.4 367.96 L567.6 366.78 L564.8 365.63 L561.8 364.52 L558.9 363.44 L555.8 362.41 L552.6 361.43 L549.3 360.50 L545.9 359.63 L542.4 358.82 L538.7 358.08 L534.9 357.41 L530.9 356.81 L526.8 356.30 L522.5 355.86 L518.0 355.52 L513.4 355.26 L508.5 355.11 L503.4 355.06 Z" fill="rgb(90,121,151)" fill-opacity="0.86"/>
<path d="M503.4 355.06 L508.6 355.22 L513.5 355.70 L518.3 356.50 L522.8 357.58 L527.2 358.95 L531.4 360.58 L535.4 362.46 L539.3 364.57 L543.1 366.91 L546.6 369.46 L550.1 372.20 L553.4 375.11 L556.7 378.19 L559.8 381.43 L562.8 384.79 L565.8 388.28 L568.7 391.88 L571.5 395.57 L574.2 399.35 L576.9 403.18 L579.6 407.08 L582.2 411.01 L584.8 414.96 L587.5 418.93 L590.1 422.90 L592.7 426.85 L595.3 430.77 L598.0 434.65 L600.6 438.46 L603.4 442.21 L606.2 445.87 L609.0 449.44 L611.9 452.89 L614.9 456.22 L618.0 459.40 L621.2 462.43 L624.5 465.30 L627.9 467.99 L631.4 470.48 L635.0 472.77 L638.8 474.83 L642.8 476.67 L646.9 478.26 L651.1 479.59 L655.6 480.65 L660.2 481.42 L665.1 481.89 L670.1 482.05 L670.1 483.76 L664.9 483.60 L660.0 483.11 L655.2 482.32 L650.7 481.23 L646.3 479.87 L642.1 478.23 L638.1 476.35 L634.2 474.23 L630.4 471.89 L626.8 469.34 L623.4 466.60 L620.0 463.69 L616.8 460.60 L613.7 457.37 L610.7 454.00 L607.7 450.51 L604.8 446.91 L602.0 443.22 L599.3 439.45 L596.6 435.61 L593.9 431.71 L591.3 427.78 L588.7 423.82 L586.0 419.85 L583.4 415.89 L580.8 411.94 L578.2 408.02 L575.5 404.14 L572.9 400.32 L570.1 396.57 L567.3 392.91 L564.5 389.34 L561.6 385.89 L558.6 382.56 L555.5 379.37 L552.3 376.34 L549.0 373.47 L545.7 370.78 L542.1 368.29 L538.5 366.00 L534.7 363.93 L530.8 362.10 L526.6 360.51 L522.4 359.17 L517.9 358.11 L513.3 357.34 L508.4 356.86 L503.4 356.70 Z" fill="rgb(90,121,151)" fill-opacity="0.86"/>
<path d="M503.4 362.80 L508.5 362.84 L513.5 362.97 L518.2 363.17 L522.8 363.46 L527.2 363.81 L531.4 364.24 L535.4 364.73 L539.3 365.29 L543.1 365.91 L546.7 366.58 L550.2 367.30 L553.5 368.07 L556.8 368.89 L559.9 369.74 L563.0 370.64 L566.0 371.56 L568.9 372.51 L571.7 373.49 L574.5 374.49 L577.2 375.50 L579.9 376.53 L582.5 377.57 L585.2 378.61 L587.8 379.65 L590.4 380.69 L593.0 381.73 L595.6 382.75 L598.2 383.76 L600.9 384.76 L603.6 385.74 L606.4 386.69 L609.2 387.62 L612.1 388.51 L615.0 389.38 L618.1 390.21 L621.3 391.00 L624.5 391.74 L627.9 392.44 L631.4 393.09 L635.0 393.69 L638.8 394.23 L642.7 394.71 L646.8 395.13 L651.1 395.47 L655.6 395.75 L660.2 395.95 L665.0 396.08 L670.1 396.12 L670.1 401.63 L665.0 401.59 L660.0 401.46 L655.3 401.25 L650.7 400.96 L646.3 400.60 L642.1 400.17 L638.1 399.67 L634.2 399.11 L630.4 398.49 L626.8 397.82 L623.3 397.09 L620.0 396.32 L616.7 395.50 L613.6 394.64 L610.5 393.74 L607.5 392.81 L604.6 391.86 L601.8 390.88 L599.0 389.87 L596.3 388.86 L593.6 387.83 L591.0 386.79 L588.3 385.74 L585.7 384.69 L583.1 383.65 L580.5 382.61 L577.9 381.58 L575.3 380.57 L572.6 379.57 L569.9 378.59 L567.1 377.63 L564.3 376.70 L561.4 375.80 L558.5 374.94 L555.4 374.10 L552.3 373.31 L549.0 372.56 L545.6 371.86 L542.1 371.20 L538.5 370.60 L534.7 370.06 L530.8 369.57 L526.7 369.15 L522.4 368.80 L517.9 368.52 L513.3 368.32 L508.5 368.19 L503.4 368.14 Z" fill="rgb(90,121,151)" fill-opacity="0.86"/>
<path d="M503.4 368.14 L508.6 368.29 L513.5 368.74 L518.3 369.46 L522.8 370.45 L527.2 371.69 L531.4 373.18 L535.5 374.90 L539.4 376.83 L543.1 378.96 L546.7 381.28 L550.2 383.78 L553.6 386.45 L556.8 389.26 L559.9 392.21 L563.0 395.28 L565.9 398.46 L568.8 401.74 L571.6 405.11 L574.4 408.55 L577.1 412.05 L579.7 415.59 L582.4 419.17 L585.0 422.78 L587.6 426.39 L590.2 430.00 L592.8 433.60 L595.4 437.16 L598.1 440.69 L600.8 444.16 L603.5 447.57 L606.3 450.90 L609.1 454.14 L612.1 457.28 L615.0 460.30 L618.1 463.19 L621.3 465.95 L624.6 468.55 L628.0 470.99 L631.5 473.25 L635.1 475.33 L638.9 477.21 L642.8 478.87 L646.9 480.32 L651.2 481.52 L655.6 482.49 L660.2 483.19 L665.1 483.62 L670.1 483.76 L670.1 485.91 L664.9 485.75 L660.0 485.31 L655.2 484.59 L650.6 483.59 L646.3 482.35 L642.0 480.86 L638.0 479.14 L634.1 477.21 L630.4 475.07 L626.8 472.74 L623.3 470.24 L619.9 467.58 L616.7 464.76 L613.6 461.81 L610.5 458.74 L607.6 455.56 L604.7 452.27 L601.9 448.91 L599.1 445.47 L596.4 441.97 L593.8 438.42 L591.1 434.84 L588.5 431.23 L585.9 427.62 L583.3 424.01 L580.7 420.41 L578.1 416.84 L575.4 413.31 L572.7 409.84 L570.0 406.43 L567.2 403.10 L564.4 399.86 L561.5 396.72 L558.5 393.69 L555.4 390.80 L552.2 388.04 L549.0 385.44 L545.6 383.00 L542.1 380.73 L538.4 378.65 L534.6 376.77 L530.7 375.11 L526.6 373.66 L522.3 372.45 L517.9 371.48 L513.3 370.78 L508.4 370.35 L503.4 370.20 Z" fill="rgb(90,121,151)" fill-opacity="0.86"/>
<path d="M503.4 376.90 L508.7 376.93 L513.8 377.02 L518.7 377.18 L523.4 377.40 L527.9 377.67 L532.3 378.00 L536.5 378.38 L540.6 378.81 L544.5 379.29 L548.3 379.81 L551.9 380.38 L555.5 380.98 L558.9 381.62 L562.2 382.28 L565.4 382.98 L568.5 383.70 L571.6 384.44 L574.5 385.20 L577.4 385.97 L580.2 386.75 L582.9 387.53 L585.6 388.31 L588.3 389.10 L590.9 389.88 L593.5 390.65 L596.1 391.41 L598.7 392.15 L601.2 392.88 L603.8 393.60 L606.4 394.30 L609.1 394.98 L611.7 395.63 L614.5 396.26 L617.3 396.87 L620.2 397.46 L623.2 398.01 L626.3 398.54 L629.5 399.03 L632.8 399.49 L636.3 399.91 L639.9 400.29 L643.6 400.63 L647.6 400.93 L651.7 401.18 L656.0 401.38 L660.5 401.52 L665.2 401.61 L670.1 401.63 L670.1 430.92 L664.8 430.88 L659.7 430.78 L654.8 430.62 L650.1 430.40 L645.6 430.12 L641.2 429.78 L637.0 429.39 L632.9 428.96 L629.0 428.47 L625.2 427.94 L621.6 427.37 L618.0 426.77 L614.6 426.12 L611.3 425.45 L608.1 424.75 L605.0 424.02 L601.9 423.27 L599.0 422.51 L596.1 421.74 L593.3 420.95 L590.6 420.16 L587.9 419.37 L585.2 418.58 L582.6 417.80 L580.0 417.02 L577.4 416.26 L574.8 415.50 L572.3 414.77 L569.7 414.04 L567.1 413.34 L564.4 412.66 L561.8 412.00 L559.0 411.36 L556.2 410.74 L553.3 410.15 L550.3 409.59 L547.2 409.06 L544.0 408.56 L540.7 408.10 L537.2 407.67 L533.6 407.28 L529.9 406.93 L525.9 406.63 L521.8 406.38 L517.5 406.17 L513.0 406.02 L508.3 405.93 L503.4 405.89 Z" fill="rgb(90,121,151)" fill-opacity="0.86"/>
<path d="M503.4 405.89 L508.7 406.00 L513.8 406.31 L518.8 406.83 L523.5 407.54 L528.1 408.43 L532.4 409.51 L536.7 410.74 L540.7 412.14 L544.6 413.68 L548.4 415.36 L552.0 417.17 L555.5 419.09 L558.9 421.12 L562.2 423.24 L565.3 425.45 L568.4 427.73 L571.3 430.07 L574.2 432.46 L577.0 434.90 L579.8 437.36 L582.5 439.86 L585.2 442.36 L587.8 444.87 L590.4 447.38 L593.0 449.87 L595.6 452.35 L598.2 454.79 L600.8 457.19 L603.5 459.55 L606.1 461.86 L608.8 464.10 L611.6 466.27 L614.4 468.37 L617.3 470.38 L620.2 472.30 L623.3 474.13 L626.4 475.85 L629.6 477.46 L633.0 478.95 L636.4 480.32 L640.1 481.56 L643.8 482.66 L647.7 483.61 L651.8 484.42 L656.1 485.05 L660.5 485.52 L665.2 485.81 L670.1 485.91 L670.1 496.61 L664.8 496.50 L659.7 496.18 L654.7 495.66 L650.0 494.94 L645.4 494.04 L641.0 492.97 L636.8 491.73 L632.7 490.33 L628.8 488.78 L625.1 487.09 L621.4 485.28 L618.0 483.35 L614.6 481.32 L611.3 479.19 L608.2 476.99 L605.1 474.70 L602.2 472.36 L599.3 469.96 L596.5 467.52 L593.7 465.05 L591.0 462.56 L588.3 460.05 L585.7 457.53 L583.1 455.02 L580.5 452.53 L577.9 450.05 L575.3 447.61 L572.7 445.20 L570.0 442.84 L567.4 440.53 L564.7 438.28 L561.9 436.11 L559.1 434.01 L556.2 431.99 L553.3 430.06 L550.3 428.24 L547.1 426.51 L543.9 424.90 L540.5 423.40 L537.1 422.02 L533.5 420.78 L529.7 419.67 L525.8 418.71 L521.7 417.91 L517.4 417.26 L513.0 416.79 L508.3 416.50 L503.4 416.40 Z" fill="rgb(90,121,151)" fill-opacity="0.86"/>
<path d="M503.4 424.10 L508.5 424.10 L513.4 424.13 L518.2 424.17 L522.7 424.22 L527.0 424.29 L531.2 424.38 L535.2 424.48 L539.1 424.59 L542.8 424.71 L546.4 424.85 L549.9 425.00 L553.2 425.16 L556.4 425.32 L559.6 425.50 L562.6 425.68 L565.6 425.87 L568.5 426.06 L571.3 426.26 L574.0 426.47 L576.7 426.68 L579.4 426.89 L582.1 427.10 L584.7 427.32 L587.3 427.53 L589.9 427.75 L592.5 427.96 L595.1 428.17 L597.8 428.38 L600.5 428.59 L603.2 428.79 L606.0 428.99 L608.8 429.18 L611.7 429.37 L614.7 429.55 L617.8 429.72 L620.9 429.88 L624.2 430.03 L627.6 430.18 L631.1 430.31 L634.8 430.44 L638.6 430.55 L642.6 430.64 L646.7 430.73 L651.0 430.80 L655.5 430.85 L660.2 430.89 L665.0 430.91 L670.1 430.92 L670.1 444.08 L665.0 444.06 L660.1 444.03 L655.3 443.98 L650.8 443.92 L646.5 443.84 L642.3 443.75 L638.3 443.64 L634.4 443.52 L630.7 443.39 L627.1 443.24 L623.6 443.09 L620.3 442.92 L617.0 442.75 L613.9 442.56 L610.9 442.37 L607.9 442.18 L605.0 441.97 L602.2 441.76 L599.5 441.55 L596.7 441.33 L594.1 441.11 L591.4 440.89 L588.8 440.67 L586.2 440.45 L583.6 440.22 L581.0 440.00 L578.4 439.78 L575.7 439.56 L573.0 439.35 L570.3 439.14 L567.5 438.93 L564.7 438.73 L561.8 438.54 L558.8 438.35 L555.7 438.17 L552.6 438.00 L549.3 437.84 L545.9 437.68 L542.4 437.54 L538.7 437.41 L534.9 437.29 L530.9 437.18 L526.8 437.09 L522.5 437.01 L518.0 436.95 L513.4 436.90 L508.5 436.87 L503.4 436.86 Z" fill="rgb(90,121,151)" fill-opacity="0.86"/>
<path d="M503.4 436.86 L508.6 436.94 L513.6 437.16 L518.3 437.54 L522.9 438.05 L527.3 438.70 L531.6 439.47 L535.6 440.36 L539.6 441.37 L543.3 442.48 L547.0 443.69 L550.5 445.00 L553.9 446.39 L557.2 447.86 L560.3 449.40 L563.4 451.01 L566.4 452.68 L569.3 454.39 L572.1 456.15 L574.9 457.94 L577.6 459.76 L580.3 461.61 L583.0 463.47 L585.6 465.34 L588.2 467.21 L590.8 469.07 L593.4 470.93 L596.0 472.76 L598.7 474.57 L601.4 476.36 L604.1 478.10 L606.8 479.81 L609.6 481.46 L612.5 483.06 L615.5 484.61 L618.5 486.08 L621.6 487.49 L624.9 488.82 L628.2 490.06 L631.7 491.22 L635.3 492.28 L639.0 493.24 L642.9 494.10 L647.0 494.84 L651.2 495.46 L655.7 495.95 L660.3 496.31 L665.1 496.53 L670.1 496.61 L670.1 501.74 L664.9 501.66 L659.9 501.43 L655.2 501.05 L650.6 500.54 L646.2 499.89 L641.9 499.11 L637.8 498.21 L633.9 497.20 L630.1 496.08 L626.5 494.87 L623.0 493.56 L619.6 492.16 L616.3 490.69 L613.2 489.14 L610.1 487.53 L607.1 485.86 L604.2 484.14 L601.3 482.38 L598.6 480.58 L595.8 478.75 L593.2 476.91 L590.5 475.04 L587.9 473.17 L585.3 471.30 L582.7 469.43 L580.1 467.57 L577.5 465.73 L574.8 463.92 L572.2 462.13 L569.5 460.38 L566.7 458.68 L563.9 457.02 L561.0 455.41 L558.1 453.86 L555.0 452.38 L551.9 450.97 L548.7 449.64 L545.3 448.39 L541.8 447.23 L538.2 446.16 L534.5 445.19 L530.6 444.34 L526.5 443.59 L522.3 442.97 L517.9 442.47 L513.2 442.10 L508.4 441.88 L503.4 441.80 Z" fill="rgb(90,121,151)" fill-opacity="0.86"/>
<path d="M503.4 449.60 L508.5 449.59 L513.4 449.57 L518.1 449.54 L522.6 449.49 L526.9 449.43 L531.1 449.36 L535.1 449.28 L538.9 449.19 L542.6 449.09 L546.1 448.98 L549.6 448.86 L552.9 448.74 L556.1 448.60 L559.2 448.46 L562.2 448.32 L565.1 448.17 L568.0 448.01 L570.8 447.85 L573.5 447.69 L576.2 447.52 L578.9 447.35 L581.5 447.18 L584.1 447.01 L586.7 446.84 L589.3 446.67 L592.0 446.49 L594.6 446.32 L597.3 446.15 L599.9 445.99 L602.7 445.82 L605.5 445.66 L608.3 445.51 L611.3 445.36 L614.3 445.21 L617.4 445.07 L620.6 444.94 L623.9 444.81 L627.3 444.69 L630.9 444.59 L634.6 444.48 L638.4 444.39 L642.4 444.31 L646.6 444.24 L650.9 444.18 L655.4 444.14 L660.1 444.10 L665.0 444.08 L670.1 444.08 L670.1 444.50 L665.0 444.51 L660.1 444.53 L655.4 444.56 L650.9 444.61 L646.6 444.67 L642.4 444.74 L638.4 444.82 L634.6 444.91 L630.9 445.01 L627.4 445.12 L623.9 445.24 L620.6 445.36 L617.4 445.50 L614.3 445.64 L611.3 445.78 L608.4 445.93 L605.5 446.09 L602.7 446.25 L600.0 446.41 L597.3 446.58 L594.6 446.75 L592.0 446.92 L589.4 447.09 L586.8 447.27 L584.2 447.44 L581.5 447.61 L578.9 447.78 L576.2 447.95 L573.6 448.12 L570.8 448.28 L568.0 448.44 L565.2 448.60 L562.2 448.75 L559.2 448.90 L556.1 449.03 L552.9 449.17 L549.6 449.29 L546.2 449.41 L542.6 449.52 L538.9 449.62 L535.1 449.71 L531.1 449.80 L526.9 449.87 L522.6 449.92 L518.1 449.97 L513.4 450.01 L508.5 450.03 L503.4 450.03 Z" fill="rgb(90,121,151)" fill-opacity="0.86"/>
<path d="M503.4 450.03 L508.5 450.10 L513.4 450.30 L518.1 450.62 L522.6 451.05 L527.0 451.60 L531.1 452.26 L535.2 453.02 L539.0 453.88 L542.7 454.82 L546.3 455.85 L549.7 456.96 L553.0 458.14 L556.3 459.39 L559.4 460.70 L562.4 462.07 L565.3 463.49 L568.2 464.95 L571.0 466.45 L573.8 467.98 L576.5 469.54 L579.1 471.13 L581.8 472.73 L584.4 474.34 L587.0 475.95 L589.6 477.57 L592.2 479.18 L594.8 480.77 L597.5 482.35 L600.2 483.91 L602.9 485.43 L605.7 486.93 L608.6 488.38 L611.5 489.79 L614.5 491.15 L617.6 492.45 L620.8 493.69 L624.1 494.86 L627.5 495.96 L631.0 496.99 L634.7 497.92 L638.5 498.77 L642.5 499.53 L646.6 500.18 L651.0 500.73 L655.4 501.16 L660.1 501.48 L665.0 501.68 L670.1 501.74 L670.1 502.60 L665.0 502.53 L660.1 502.34 L655.4 502.02 L650.9 501.58 L646.5 501.03 L642.4 500.37 L638.3 499.61 L634.5 498.76 L630.8 497.81 L627.2 496.78 L623.8 495.68 L620.5 494.50 L617.2 493.25 L614.1 491.94 L611.1 490.57 L608.2 489.15 L605.3 487.69 L602.5 486.19 L599.7 484.66 L597.0 483.09 L594.4 481.51 L591.7 479.91 L589.1 478.30 L586.5 476.69 L583.9 475.07 L581.3 473.46 L578.7 471.87 L576.0 470.29 L573.3 468.73 L570.6 467.20 L567.8 465.71 L564.9 464.26 L562.0 462.85 L559.0 461.49 L555.9 460.19 L552.7 458.95 L549.4 457.78 L546.0 456.68 L542.5 455.66 L538.8 454.72 L535.0 453.87 L531.0 453.11 L526.9 452.46 L522.5 451.91 L518.1 451.48 L513.4 451.16 L508.5 450.97 L503.4 450.90 Z" fill="rgb(90,121,151)" fill-opacity="0.86"/>
<rect x="333.0" y="343.10" width="1.9" height="36.40" fill="#33343a"/>
<rect x="333.0" y="386.50" width="1.9" height="21.70" fill="#33343a"/>
<rect x="333.0" y="418.90" width="1.9" height="116.70" fill="#33343a"/>
<rect x="501.6" y="289.50" width="1.9" height="34.00" fill="#33343a"/>
<rect x="501.6" y="330.90" width="1.9" height="0.50" fill="#33343a"/>
<rect x="501.6" y="338.40" width="1.9" height="7.80" fill="#33343a"/>
<rect x="501.6" y="353.00" width="1.9" height="3.70" fill="#33343a"/>
<rect x="501.6" y="362.80" width="1.9" height="7.40" fill="#33343a"/>
<rect x="501.6" y="376.90" width="1.9" height="39.50" fill="#33343a"/>
<rect x="501.6" y="424.10" width="1.9" height="17.70" fill="#33343a"/>
<rect x="501.6" y="449.60" width="1.9" height="1.30" fill="#33343a"/>
<rect x="501.6" y="457.70" width="1.9" height="0.90" fill="#33343a"/>
<rect x="501.6" y="465.40" width="1.9" height="35.00" fill="#33343a"/>
<rect x="501.6" y="507.20" width="1.9" height="19.70" fill="#33343a"/>
<rect x="501.6" y="533.70" width="1.9" height="1.70" fill="#33343a"/>
<rect x="670.1" y="354.10" width="1.9" height="117.10" fill="#33343a"/>
<rect x="670.1" y="478.20" width="1.9" height="57.40" fill="#33343a"/>
<text x="335.6" y="359.0" font-size="7.25" text-anchor="start" fill="#0a0a0a" font-style="italic" font-family="Liberation Sans, sans-serif">Micrarchaeota</text>
<text x="335.6" y="365.1" font-size="7.25" text-anchor="start" fill="#0a0a0a" font-family="Liberation Sans, sans-serif">87</text>
<text x="335.6" y="395.3" font-size="7.25" text-anchor="start" fill="#0a0a0a" font-style="italic" font-family="Liberation Sans, sans-serif">Nanoarchaeota</text>
<text x="335.6" y="401.3" font-size="7.25" text-anchor="start" fill="#0a0a0a" font-family="Liberation Sans, sans-serif">52</text>
<text x="335.6" y="473.0" font-size="7.25" text-anchor="start" fill="#0a0a0a" font-style="italic" font-family="Liberation Sans, sans-serif">Patescibacteria</text>
<text x="335.6" y="479.1" font-size="7.25" text-anchor="start" fill="#0a0a0a" font-family="Liberation Sans, sans-serif">270</text>
<text x="504.1" y="301.9" font-size="7.25" text-anchor="start" fill="#0a0a0a"  font-family="Liberation Sans, sans-serif">ABY1</text>
<text x="504.1" y="308.6" font-size="7.25" text-anchor="start" fill="#0a0a0a" font-family="Liberation Sans, sans-serif">83</text>
<text x="504.1" y="329.3" font-size="7.25" text-anchor="start" fill="#0a0a0a"  font-family="Liberation Sans, sans-serif">CPR2</text>
<text x="504.1" y="334.4" font-size="7.25" text-anchor="start" fill="#0a0a0a" font-family="Liberation Sans, sans-serif">1</text>
<text x="504.1" y="341.1" font-size="7.25" text-anchor="start" fill="#0a0a0a" font-style="italic" font-family="Liberation Sans, sans-serif">Dojkabacteria</text>
<text x="504.1" y="347.2" font-size="7.25" text-anchor="start" fill="#0a0a0a" font-family="Liberation Sans, sans-serif">19</text>
<text x="504.1" y="354.7" font-size="7.25" text-anchor="start" fill="#0a0a0a" font-style="italic" font-family="Liberation Sans, sans-serif">Doudnabacteria</text>
<text x="504.1" y="360.7" font-size="7.25" text-anchor="start" fill="#0a0a0a" font-family="Liberation Sans, sans-serif">9</text>
<text x="504.1" y="368.3" font-size="7.25" text-anchor="start" fill="#0a0a0a" font-style="italic" font-family="Liberation Sans, sans-serif">Microgenomatia</text>
<text x="504.1" y="374.5" font-size="7.25" text-anchor="start" fill="#0a0a0a" font-family="Liberation Sans, sans-serif">18</text>
<text x="504.1" y="394.9" font-size="7.25" text-anchor="start" fill="#0a0a0a" font-style="italic" font-family="Liberation Sans, sans-serif">Paceibacteria</text>
<text x="504.1" y="401.6" font-size="7.25" text-anchor="start" fill="#0a0a0a" font-family="Liberation Sans, sans-serif">94</text>
<text x="504.1" y="431.0" font-size="7.25" text-anchor="start" fill="#0a0a0a" font-style="italic" font-family="Liberation Sans, sans-serif">Saccharimonadia</text>
<text x="504.1" y="437.6" font-size="7.25" text-anchor="start" fill="#0a0a0a" font-family="Liberation Sans, sans-serif">43</text>
<text x="504.1" y="448.2" font-size="7.25" text-anchor="start" fill="#0a0a0a"  font-family="Liberation Sans, sans-serif">UBA1384</text>
<text x="504.1" y="453.6" font-size="7.25" text-anchor="start" fill="#0a0a0a" font-family="Liberation Sans, sans-serif">3</text>
<text x="504.1" y="459.4" font-size="7.25" text-anchor="start" fill="#0a0a0a" font-style="italic" font-family="Liberation Sans, sans-serif">Anstonellales</text>
<text x="504.1" y="465.6" font-size="7.25" text-anchor="start" fill="#0a0a0a" font-family="Liberation Sans, sans-serif">2</text>
<text x="504.1" y="480.8" font-size="7.25" text-anchor="start" fill="#0a0a0a" font-style="italic" font-family="Liberation Sans, sans-serif">Micrarchaeales</text>
<text x="504.1" y="487.2" font-size="7.25" text-anchor="start" fill="#0a0a0a" font-family="Liberation Sans, sans-serif">85</text>
<text x="504.1" y="514.8" font-size="7.25" text-anchor="start" fill="#0a0a0a" font-style="italic" font-family="Liberation Sans, sans-serif">Parvarchaeales</text>
<text x="504.1" y="521.1" font-size="7.25" text-anchor="start" fill="#0a0a0a" font-family="Liberation Sans, sans-serif">48</text>
<text x="504.1" y="534.5" font-size="7.25" text-anchor="start" fill="#0a0a0a" font-style="italic" font-family="Liberation Sans, sans-serif">Woesearchaeales</text>
<text x="504.1" y="539.5" font-size="7.25" text-anchor="start" fill="#0a0a0a" font-family="Liberation Sans, sans-serif">4</text>
<text x="668.9" y="407.3" font-size="7.25" text-anchor="end" fill="#0a0a0a"  font-family="Liberation Sans, sans-serif">temperate</text>
<text x="668.9" y="414.4" font-size="7.25" text-anchor="end" fill="#0a0a0a" font-family="Liberation Sans, sans-serif">282</text>
<text x="668.9" y="506.8" font-size="7.25" text-anchor="end" fill="#0a0a0a"  font-family="Liberation Sans, sans-serif">virulent</text>
<text x="668.9" y="514.1" font-size="7.25" text-anchor="end" fill="#0a0a0a" font-family="Liberation Sans, sans-serif">127</text>
<text x="326.7" y="336.6" font-size="8.2" font-weight="bold" fill="#848484" font-family="Liberation Sans, sans-serif">Phylum</text>
<text x="482.9" y="281.3" font-size="8.2" font-weight="bold" fill="#848484" font-family="Liberation Sans, sans-serif">Class/ Order</text>
<text x="646.6" y="342.9" font-size="8.2" font-weight="bold" fill="#848484" font-family="Liberation Sans, sans-serif">Life style</text>
</g>
</svg>
</body></html>
